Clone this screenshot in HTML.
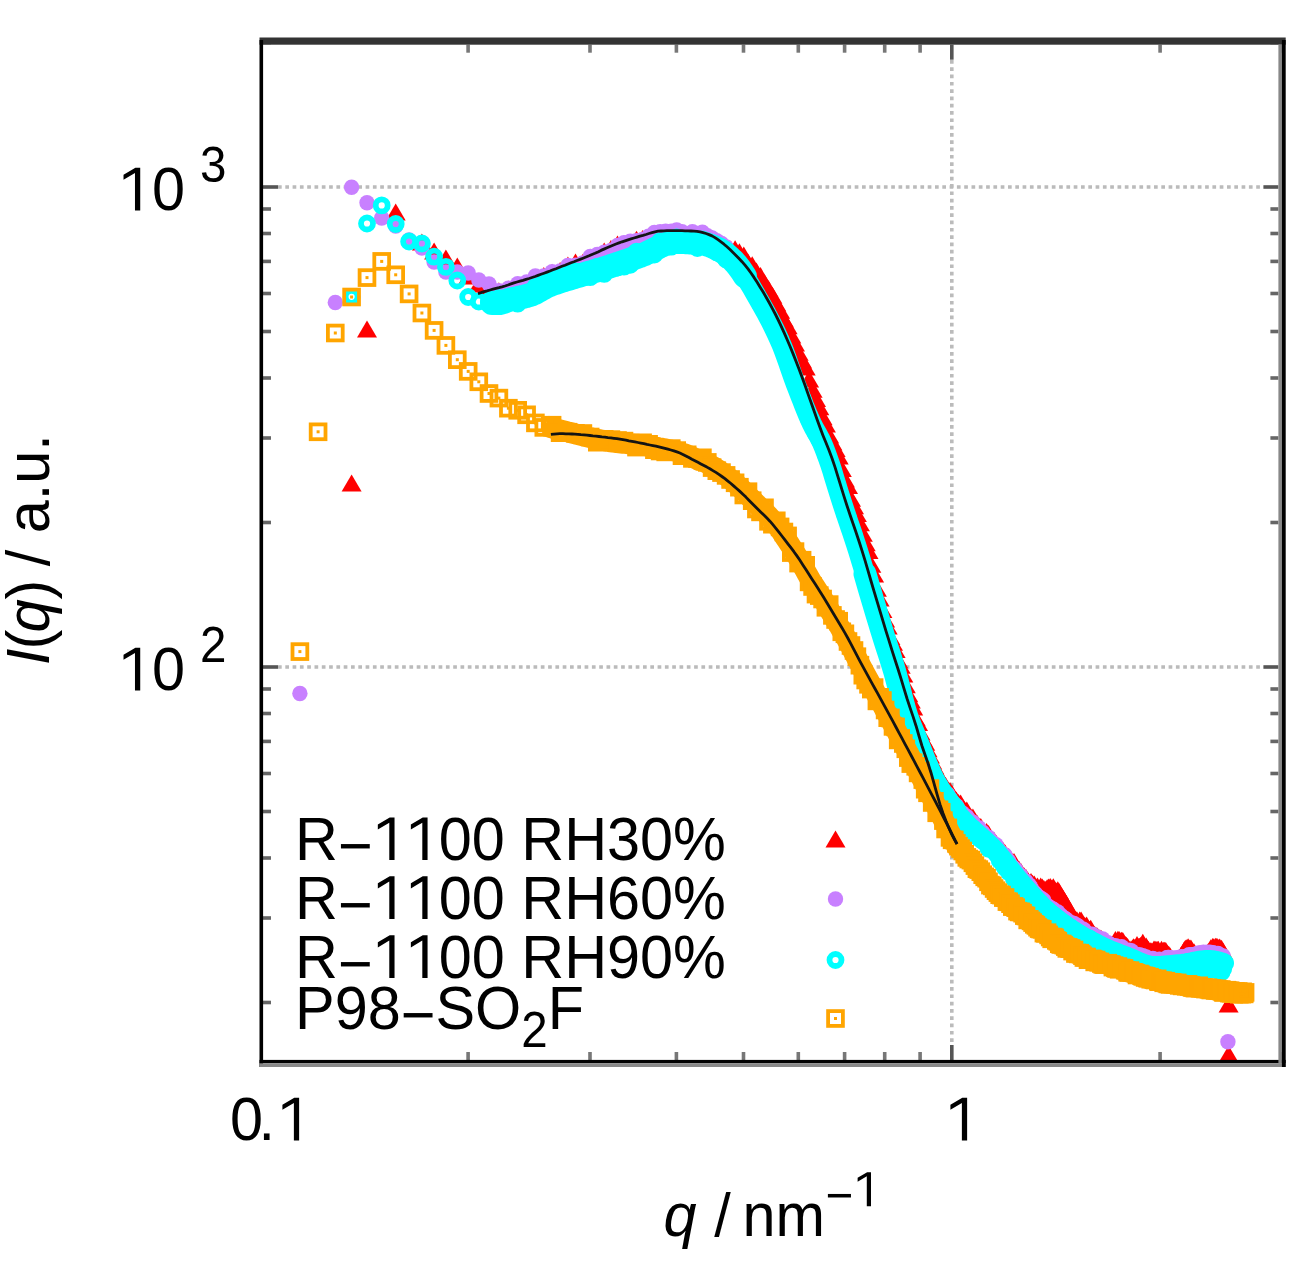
<!DOCTYPE html>
<html><head><meta charset="utf-8"><style>html,body{margin:0;padding:0;background:#fff;width:1307px;height:1263px;overflow:hidden}svg{display:block}</style></head>
<body><svg width="1307" height="1263" viewBox="0 0 1307 1263">
<defs>
<g id="tri"><path d="M0,-9.5 L10,7.5 L-10,7.5 Z" fill="#ff0000"/></g>
<g id="dot"><circle r="7.7" fill="#c880ff"/></g>
<g id="circ"><circle r="6" fill="none" stroke="#00ffff" stroke-width="5.8"/></g>
<g id="sq"><rect x="-7.4" y="-7.4" width="14.8" height="14.8" fill="none" stroke="#ffa500" stroke-width="3.8"/><rect x="-1.5" y="-1.5" width="3" height="3" fill="#ffa500"/></g>
<clipPath id="clip"><rect x="263" y="44.7" width="1015.4" height="1015.3"/></clipPath>
</defs>
<rect width="1307" height="1263" fill="#fff"/>
<line x1="278" y1="187" x2="1262" y2="187" stroke="#bbb" stroke-width="3.6" stroke-dasharray="3.7 3.6"/><line x1="278" y1="667" x2="1262" y2="667" stroke="#bbb" stroke-width="3.6" stroke-dasharray="3.7 3.6"/><line x1="951.8" y1="60" x2="951.8" y2="1045" stroke="#bbb" stroke-width="3.6" stroke-dasharray="3.7 3.6"/>
<g clip-path="url(#clip)">
<use href="#tri" x="351.6" y="484"/><use href="#tri" x="367" y="330"/><use href="#tri" x="395.7" y="213"/><use href="#tri" x="421.9" y="243"/><use href="#tri" x="434.1" y="252"/><use href="#tri" x="445.9" y="259"/><use href="#tri" x="457.3" y="267"/><use href="#tri" x="468.2" y="277"/><use href="#tri" x="478.8" y="285"/><use href="#tri" x="489" y="288"/><use href="#tri" x="498.9" y="291.7"/><use href="#tri" x="508.4" y="290"/><use href="#tri" x="517.7" y="286.3"/><use href="#tri" x="526.6" y="284.6"/><use href="#tri" x="535.4" y="281.8"/><use href="#tri" x="543.8" y="276.6"/><use href="#tri" x="552.1" y="273.3"/><use href="#tri" x="560.1" y="271.4"/><use href="#tri" x="567.9" y="266.1"/><use href="#tri" x="575.5" y="263"/><use href="#tri" x="582.9" y="263.2"/><use href="#tri" x="590.2" y="258.2"/><use href="#tri" x="597.3" y="256.6"/><use href="#tri" x="604.2" y="251.9"/><use href="#tri" x="610.9" y="249.6"/><use href="#tri" x="617.5" y="245"/><use href="#tri" x="624" y="244.7"/><use href="#tri" x="630.3" y="243.5"/><use href="#tri" x="636.5" y="240.3"/><use href="#tri" x="642.6" y="239.5"/><use href="#tri" x="648.6" y="237.4"/><use href="#tri" x="654.4" y="235.2"/><use href="#tri" x="660.1" y="237"/><use href="#tri" x="665.7" y="236.1"/><use href="#tri" x="671.3" y="234.8"/><use href="#tri" x="676.7" y="233.7"/><use href="#tri" x="682" y="237.1"/><use href="#tri" x="687.2" y="235.7"/><use href="#tri" x="692.4" y="237"/><use href="#tri" x="697.4" y="238"/><use href="#tri" x="702.4" y="238.3"/><use href="#tri" x="707.3" y="240.7"/><use href="#tri" x="712.1" y="240.5"/><use href="#tri" x="716.8" y="245.1"/><use href="#tri" x="721.5" y="247.1"/><use href="#tri" x="726.1" y="252.7"/><use href="#tri" x="730.6" y="250"/><use href="#tri" x="735.1" y="249.7"/><use href="#tri" x="739.4" y="252.7"/><use href="#tri" x="743.8" y="256"/><use href="#tri" x="748" y="263.1"/><use href="#tri" x="752.2" y="265.8"/><use href="#tri" x="756.4" y="272"/><use href="#tri" x="760.5" y="276.6"/><use href="#tri" x="764.5" y="283.7"/><use href="#tri" x="768.5" y="289.7"/><use href="#tri" x="772.4" y="296.2"/><use href="#tri" x="776.3" y="304.1"/><use href="#tri" x="780.1" y="311.2"/><use href="#tri" x="783.9" y="319.9"/><use href="#tri" x="787.6" y="326.8"/><use href="#tri" x="791.3" y="336"/><use href="#tri" x="795" y="344"/><use href="#tri" x="798.6" y="353.2"/><use href="#tri" x="802.1" y="360.9"/><use href="#tri" x="805.7" y="368"/><use href="#tri" x="809.1" y="380.1"/><use href="#tri" x="812.6" y="390.2"/><use href="#tri" x="816" y="399.6"/><use href="#tri" x="819.3" y="407.7"/><use href="#tri" x="822.6" y="417.7"/><use href="#tri" x="825.9" y="424.9"/><use href="#tri" x="829.2" y="435.9"/><use href="#tri" x="832.4" y="442.9"/><use href="#tri" x="835.6" y="449.6"/><use href="#tri" x="838.7" y="457.1"/><use href="#tri" x="841.8" y="469.6"/><use href="#tri" x="844.9" y="480.1"/><use href="#tri" x="848" y="486.6"/><use href="#tri" x="851" y="499.2"/><use href="#tri" x="854" y="506.8"/><use href="#tri" x="856.9" y="514.6"/><use href="#tri" x="859.9" y="523.8"/><use href="#tri" x="862.8" y="534.2"/><use href="#tri" x="865.7" y="543.7"/><use href="#tri" x="868.5" y="551.4"/><use href="#tri" x="871.3" y="565.3"/><use href="#tri" x="874.1" y="575"/><use href="#tri" x="876.9" y="589.2"/><use href="#tri" x="879.6" y="599"/><use href="#tri" x="882.4" y="610.6"/><use href="#tri" x="885.1" y="620"/><use href="#tri" x="887.7" y="627"/><use href="#tri" x="890.4" y="637.5"/><use href="#tri" x="893" y="643.2"/><use href="#tri" x="895.6" y="650.5"/><use href="#tri" x="898.2" y="660.7"/><use href="#tri" x="900.7" y="666.3"/><use href="#tri" x="903.3" y="675"/><use href="#tri" x="905.8" y="685.7"/><use href="#tri" x="908.3" y="694.7"/><use href="#tri" x="910.8" y="700.9"/><use href="#tri" x="913.2" y="708.1"/><use href="#tri" x="915.7" y="718.7"/><use href="#tri" x="918.1" y="723.6"/><use href="#tri" x="920.5" y="732.9"/><use href="#tri" x="922.8" y="739.2"/><use href="#tri" x="925.2" y="743.3"/><use href="#tri" x="927.5" y="749.8"/><use href="#tri" x="929.9" y="755.9"/><use href="#tri" x="932.2" y="762"/><use href="#tri" x="934.4" y="767.1"/><use href="#tri" x="936.7" y="771.9"/><use href="#tri" x="939" y="776.6"/><use href="#tri" x="941.2" y="781.8"/><use href="#tri" x="943.4" y="783.6"/><use href="#tri" x="945.6" y="786.5"/><use href="#tri" x="947.8" y="790.6"/><use href="#tri" x="950" y="791.6"/><use href="#tri" x="952.1" y="794.7"/><use href="#tri" x="954.3" y="800.1"/><use href="#tri" x="956.4" y="800.9"/><use href="#tri" x="958.5" y="803.6"/><use href="#tri" x="960.6" y="803.9"/><use href="#tri" x="962.7" y="808"/><use href="#tri" x="964.7" y="811"/><use href="#tri" x="966.8" y="811.1"/><use href="#tri" x="968.8" y="815.8"/><use href="#tri" x="970.9" y="818.1"/><use href="#tri" x="972.9" y="818"/><use href="#tri" x="974.9" y="822.4"/><use href="#tri" x="976.9" y="823.9"/><use href="#tri" x="978.8" y="826.8"/><use href="#tri" x="980.8" y="827.6"/><use href="#tri" x="982.7" y="831.1"/><use href="#tri" x="984.7" y="833.2"/><use href="#tri" x="986.6" y="832.4"/><use href="#tri" x="988.5" y="834.6"/><use href="#tri" x="990.4" y="839.1"/><use href="#tri" x="992.3" y="842.3"/><use href="#tri" x="994.1" y="841.5"/><use href="#tri" x="996" y="844.3"/><use href="#tri" x="997.9" y="846.9"/><use href="#tri" x="999.7" y="847.8"/><use href="#tri" x="1001.5" y="849.9"/><use href="#tri" x="1003.3" y="851.7"/><use href="#tri" x="1005.1" y="853.9"/><use href="#tri" x="1006.9" y="856.8"/><use href="#tri" x="1008.7" y="857.5"/><use href="#tri" x="1010.5" y="859.8"/><use href="#tri" x="1012.3" y="863.4"/><use href="#tri" x="1014" y="862.5"/><use href="#tri" x="1015.7" y="866.9"/><use href="#tri" x="1017.5" y="869.9"/><use href="#tri" x="1019.2" y="870.6"/><use href="#tri" x="1020.9" y="872.5"/><use href="#tri" x="1022.6" y="877.1"/><use href="#tri" x="1024.3" y="876.9"/><use href="#tri" x="1026" y="878.6"/><use href="#tri" x="1027.7" y="881.3"/><use href="#tri" x="1029.3" y="883.7"/><use href="#tri" x="1031" y="882.4"/><use href="#tri" x="1032.6" y="884.2"/><use href="#tri" x="1034.3" y="885.1"/><use href="#tri" x="1035.9" y="887.8"/><use href="#tri" x="1037.5" y="887"/><use href="#tri" x="1039.1" y="889.3"/><use href="#tri" x="1040.7" y="887.1"/><use href="#tri" x="1042.3" y="888.1"/><use href="#tri" x="1043.9" y="889.6"/><use href="#tri" x="1045.5" y="890.5"/><use href="#tri" x="1047.1" y="888.8"/><use href="#tri" x="1048.6" y="887.9"/><use href="#tri" x="1050.2" y="887.5"/><use href="#tri" x="1051.7" y="889.1"/><use href="#tri" x="1053.3" y="887.8"/><use href="#tri" x="1054.8" y="890.7"/><use href="#tri" x="1056.3" y="891.9"/><use href="#tri" x="1057.8" y="890.7"/><use href="#tri" x="1059.3" y="892.8"/><use href="#tri" x="1060.8" y="896.8"/><use href="#tri" x="1062.3" y="898"/><use href="#tri" x="1063.8" y="901.3"/><use href="#tri" x="1065.3" y="902.9"/><use href="#tri" x="1066.8" y="905.8"/><use href="#tri" x="1068.2" y="910.3"/><use href="#tri" x="1069.7" y="915.6"/><use href="#tri" x="1071.1" y="916.1"/><use href="#tri" x="1072.6" y="917.9"/><use href="#tri" x="1074" y="919.2"/><use href="#tri" x="1075.4" y="920.1"/><use href="#tri" x="1076.9" y="920.7"/><use href="#tri" x="1078.3" y="923.4"/><use href="#tri" x="1079.7" y="920.9"/><use href="#tri" x="1081.1" y="920.9"/><use href="#tri" x="1082.5" y="925.3"/><use href="#tri" x="1083.9" y="925.8"/><use href="#tri" x="1085.2" y="927.1"/><use href="#tri" x="1086.6" y="926"/><use href="#tri" x="1088" y="929.3"/><use href="#tri" x="1089.4" y="930.6"/><use href="#tri" x="1090.7" y="929.3"/><use href="#tri" x="1092.1" y="932.9"/><use href="#tri" x="1093.4" y="934.8"/><use href="#tri" x="1094.7" y="935.6"/><use href="#tri" x="1096.1" y="936.5"/><use href="#tri" x="1097.4" y="936.9"/><use href="#tri" x="1098.7" y="938.3"/><use href="#tri" x="1100" y="938.9"/><use href="#tri" x="1101.3" y="939.4"/><use href="#tri" x="1102.7" y="942.5"/><use href="#tri" x="1104" y="942.4"/><use href="#tri" x="1105.2" y="945.3"/><use href="#tri" x="1106.5" y="942.9"/><use href="#tri" x="1107.8" y="946.6"/><use href="#tri" x="1109.1" y="945.7"/><use href="#tri" x="1110.4" y="946.3"/><use href="#tri" x="1111.6" y="945.8"/><use href="#tri" x="1112.9" y="945.3"/><use href="#tri" x="1114.1" y="943.5"/><use href="#tri" x="1115.4" y="940.6"/><use href="#tri" x="1116.6" y="943"/><use href="#tri" x="1117.9" y="940.3"/><use href="#tri" x="1119.1" y="940.4"/><use href="#tri" x="1120.3" y="941.7"/><use href="#tri" x="1121.6" y="941.2"/><use href="#tri" x="1122.8" y="941.6"/><use href="#tri" x="1124" y="945.1"/><use href="#tri" x="1125.2" y="945.5"/><use href="#tri" x="1126.4" y="946.2"/><use href="#tri" x="1127.6" y="947.4"/><use href="#tri" x="1128.8" y="951"/><use href="#tri" x="1130" y="949.9"/><use href="#tri" x="1131.2" y="951"/><use href="#tri" x="1132.4" y="948.9"/><use href="#tri" x="1133.5" y="947.7"/><use href="#tri" x="1134.7" y="948.4"/><use href="#tri" x="1135.9" y="948.8"/><use href="#tri" x="1137" y="945.5"/><use href="#tri" x="1138.2" y="947.4"/><use href="#tri" x="1139.4" y="947.3"/><use href="#tri" x="1140.5" y="946.4"/><use href="#tri" x="1141.6" y="946.3"/><use href="#tri" x="1142.8" y="943.2"/><use href="#tri" x="1143.9" y="946.5"/><use href="#tri" x="1145.1" y="948.7"/><use href="#tri" x="1146.2" y="946.9"/><use href="#tri" x="1147.3" y="949.2"/><use href="#tri" x="1148.4" y="950.4"/><use href="#tri" x="1149.5" y="952"/><use href="#tri" x="1150.7" y="951.7"/><use href="#tri" x="1151.8" y="951.9"/><use href="#tri" x="1152.9" y="953.1"/><use href="#tri" x="1154" y="950"/><use href="#tri" x="1155.1" y="950.2"/><use href="#tri" x="1156.1" y="950.5"/><use href="#tri" x="1157.2" y="950.5"/><use href="#tri" x="1158.3" y="950.3"/><use href="#tri" x="1159.4" y="953.9"/><use href="#tri" x="1160.5" y="953.4"/><use href="#tri" x="1161.5" y="950.3"/><use href="#tri" x="1162.6" y="952"/><use href="#tri" x="1163.7" y="951.3"/><use href="#tri" x="1164.7" y="951.3"/><use href="#tri" x="1165.8" y="951.6"/><use href="#tri" x="1166.8" y="953.7"/><use href="#tri" x="1167.9" y="954.8"/><use href="#tri" x="1168.9" y="955.6"/><use href="#tri" x="1170" y="956.7"/><use href="#tri" x="1171" y="959.1"/><use href="#tri" x="1172.1" y="960"/><use href="#tri" x="1173.1" y="963.1"/><use href="#tri" x="1174.1" y="964.6"/><use href="#tri" x="1175.1" y="963.5"/><use href="#tri" x="1176.2" y="962"/><use href="#tri" x="1177.2" y="961.5"/><use href="#tri" x="1178.2" y="961.1"/><use href="#tri" x="1179.2" y="960.5"/><use href="#tri" x="1180.2" y="959.5"/><use href="#tri" x="1181.2" y="956.1"/><use href="#tri" x="1182.2" y="955.9"/><use href="#tri" x="1183.2" y="953.4"/><use href="#tri" x="1184.2" y="951"/><use href="#tri" x="1185.2" y="949.4"/><use href="#tri" x="1186.2" y="948.8"/><use href="#tri" x="1187.2" y="949"/><use href="#tri" x="1188.1" y="947.7"/><use href="#tri" x="1189.1" y="949.1"/><use href="#tri" x="1190.1" y="949"/><use href="#tri" x="1191.1" y="949.2"/><use href="#tri" x="1192" y="951.7"/><use href="#tri" x="1193" y="953.8"/><use href="#tri" x="1194" y="952.7"/><use href="#tri" x="1194.9" y="955.4"/><use href="#tri" x="1195.9" y="956.5"/><use href="#tri" x="1196.8" y="959.1"/><use href="#tri" x="1197.8" y="959.7"/><use href="#tri" x="1198.7" y="957.4"/><use href="#tri" x="1199.7" y="959.3"/><use href="#tri" x="1200.6" y="958.6"/><use href="#tri" x="1201.5" y="956"/><use href="#tri" x="1202.5" y="956.3"/><use href="#tri" x="1203.4" y="954.3"/><use href="#tri" x="1204.3" y="956.4"/><use href="#tri" x="1205.3" y="955.1"/><use href="#tri" x="1206.2" y="955.3"/><use href="#tri" x="1207.1" y="954.2"/><use href="#tri" x="1208" y="953"/><use href="#tri" x="1208.9" y="952.5"/><use href="#tri" x="1209.9" y="951.2"/><use href="#tri" x="1210.8" y="948.8"/><use href="#tri" x="1211.7" y="950.3"/><use href="#tri" x="1212.6" y="947.5"/><use href="#tri" x="1213.5" y="947.8"/><use href="#tri" x="1214.4" y="950.1"/><use href="#tri" x="1215.3" y="947.2"/><use href="#tri" x="1216.2" y="947.4"/><use href="#tri" x="1217.1" y="947.6"/><use href="#tri" x="1217.9" y="950.9"/><use href="#tri" x="1218.8" y="948.4"/><use href="#tri" x="1219.7" y="948"/><use href="#tri" x="1220.6" y="951.7"/><use href="#tri" x="1221.5" y="949.2"/><use href="#tri" x="1222.3" y="952.6"/><use href="#tri" x="1223.2" y="952.5"/><use href="#tri" x="1228.6" y="1005"/><use href="#tri" x="1228.6" y="1055"/>
<use href="#dot" x="299.9" y="693.5"/><use href="#dot" x="335.3" y="302.5"/><use href="#dot" x="351.6" y="187.3"/><use href="#dot" x="367" y="202.8"/><use href="#dot" x="381.7" y="218"/><use href="#dot" x="395.7" y="226"/><use href="#dot" x="409.1" y="240"/><use href="#dot" x="421.9" y="248"/><use href="#dot" x="434.1" y="262"/><use href="#dot" x="445.9" y="272"/><use href="#dot" x="457.3" y="272"/><use href="#dot" x="468.2" y="273"/><use href="#dot" x="478.8" y="280"/><use href="#dot" x="489" y="284"/><use href="#dot" x="498.9" y="290.6"/><use href="#dot" x="508.4" y="288.2"/><use href="#dot" x="517.7" y="283.6"/><use href="#dot" x="526.6" y="281.9"/><use href="#dot" x="535.4" y="276"/><use href="#dot" x="543.8" y="275.9"/><use href="#dot" x="552.1" y="271.7"/><use href="#dot" x="560.1" y="271"/><use href="#dot" x="567.9" y="265.5"/><use href="#dot" x="575.5" y="265.1"/><use href="#dot" x="582.9" y="263"/><use href="#dot" x="590.2" y="256.5"/><use href="#dot" x="597.3" y="254.5"/><use href="#dot" x="604.2" y="252.3"/><use href="#dot" x="610.9" y="250.4"/><use href="#dot" x="617.5" y="245.4"/><use href="#dot" x="624" y="242.8"/><use href="#dot" x="630.3" y="241.1"/><use href="#dot" x="636.5" y="240.7"/><use href="#dot" x="642.6" y="239.5"/><use href="#dot" x="648.6" y="236.3"/><use href="#dot" x="654.4" y="232.4"/><use href="#dot" x="660.1" y="231.6"/><use href="#dot" x="665.7" y="231.2"/><use href="#dot" x="671.3" y="231.3"/><use href="#dot" x="676.7" y="229.9"/><use href="#dot" x="682" y="231.7"/><use href="#dot" x="687.2" y="233.7"/><use href="#dot" x="692.4" y="231.8"/><use href="#dot" x="697.4" y="233.5"/><use href="#dot" x="702.4" y="232.1"/><use href="#dot" x="707.3" y="235.8"/><use href="#dot" x="712.1" y="238"/><use href="#dot" x="716.8" y="240.6"/><use href="#dot" x="721.5" y="243.4"/><use href="#dot" x="726.1" y="246.9"/><use href="#dot" x="730.6" y="258.8"/><use href="#dot" x="735.1" y="264.3"/><use href="#dot" x="739.4" y="266.8"/><use href="#dot" x="743.8" y="272.8"/><use href="#dot" x="748" y="282.2"/><use href="#dot" x="752.2" y="290.1"/><use href="#dot" x="756.4" y="295.7"/><use href="#dot" x="760.5" y="302.6"/><use href="#dot" x="764.5" y="310.9"/><use href="#dot" x="768.5" y="316.1"/><use href="#dot" x="772.4" y="324.1"/><use href="#dot" x="776.3" y="331.8"/><use href="#dot" x="780.1" y="341.8"/><use href="#dot" x="783.9" y="350"/><use href="#dot" x="787.6" y="360.1"/><use href="#dot" x="791.3" y="372.6"/><use href="#dot" x="795" y="383.8"/><use href="#dot" x="798.6" y="390.6"/><use href="#dot" x="802.1" y="401.4"/><use href="#dot" x="805.7" y="409.1"/><use href="#dot" x="809.1" y="419.1"/><use href="#dot" x="812.6" y="425.5"/><use href="#dot" x="816" y="430.5"/><use href="#dot" x="819.3" y="436.3"/><use href="#dot" x="822.6" y="442.4"/><use href="#dot" x="825.9" y="452.5"/><use href="#dot" x="829.2" y="461.2"/><use href="#dot" x="832.4" y="470.2"/><use href="#dot" x="835.6" y="481.5"/><use href="#dot" x="838.7" y="491.5"/><use href="#dot" x="841.8" y="503"/><use href="#dot" x="844.9" y="510"/><use href="#dot" x="848" y="522.5"/><use href="#dot" x="851" y="529.2"/><use href="#dot" x="854" y="538.6"/><use href="#dot" x="856.9" y="547.3"/><use href="#dot" x="859.9" y="558.2"/><use href="#dot" x="862.8" y="567.7"/><use href="#dot" x="865.7" y="576.4"/><use href="#dot" x="868.5" y="585.9"/><use href="#dot" x="871.3" y="596.5"/><use href="#dot" x="874.1" y="606.4"/><use href="#dot" x="876.9" y="613.8"/><use href="#dot" x="879.6" y="624.2"/><use href="#dot" x="882.4" y="634"/><use href="#dot" x="885.1" y="640.8"/><use href="#dot" x="887.7" y="648.3"/><use href="#dot" x="890.4" y="656.4"/><use href="#dot" x="893" y="666.6"/><use href="#dot" x="895.6" y="675.4"/><use href="#dot" x="898.2" y="686.4"/><use href="#dot" x="900.7" y="696.1"/><use href="#dot" x="903.3" y="703.5"/><use href="#dot" x="905.8" y="712"/><use href="#dot" x="908.3" y="719.5"/><use href="#dot" x="910.8" y="725.5"/><use href="#dot" x="913.2" y="733.4"/><use href="#dot" x="915.7" y="739.7"/><use href="#dot" x="918.1" y="746"/><use href="#dot" x="920.5" y="749.5"/><use href="#dot" x="922.8" y="757.7"/><use href="#dot" x="925.2" y="761.1"/><use href="#dot" x="927.5" y="767.1"/><use href="#dot" x="929.9" y="773.5"/><use href="#dot" x="932.2" y="775.8"/><use href="#dot" x="934.4" y="780.2"/><use href="#dot" x="936.7" y="787.1"/><use href="#dot" x="939" y="788.6"/><use href="#dot" x="941.2" y="786.3"/><use href="#dot" x="943.4" y="790.4"/><use href="#dot" x="945.6" y="793.9"/><use href="#dot" x="947.8" y="794.2"/><use href="#dot" x="950" y="798.3"/><use href="#dot" x="952.1" y="801.4"/><use href="#dot" x="954.3" y="804.2"/><use href="#dot" x="956.4" y="805.6"/><use href="#dot" x="958.5" y="809.5"/><use href="#dot" x="960.6" y="813.3"/><use href="#dot" x="962.7" y="813.3"/><use href="#dot" x="964.7" y="816.1"/><use href="#dot" x="966.8" y="816.5"/><use href="#dot" x="968.8" y="819.1"/><use href="#dot" x="970.9" y="822.7"/><use href="#dot" x="972.9" y="822.3"/><use href="#dot" x="974.9" y="827.2"/><use href="#dot" x="976.9" y="829.1"/><use href="#dot" x="978.8" y="827.6"/><use href="#dot" x="980.8" y="832.7"/><use href="#dot" x="982.7" y="832.1"/><use href="#dot" x="984.7" y="835.4"/><use href="#dot" x="986.6" y="837.1"/><use href="#dot" x="988.5" y="837.1"/><use href="#dot" x="990.4" y="840.4"/><use href="#dot" x="992.3" y="842.2"/><use href="#dot" x="994.1" y="844.8"/><use href="#dot" x="996" y="844.7"/><use href="#dot" x="997.9" y="848.8"/><use href="#dot" x="999.7" y="851.8"/><use href="#dot" x="1001.5" y="852.9"/><use href="#dot" x="1003.3" y="854.7"/><use href="#dot" x="1005.1" y="855.3"/><use href="#dot" x="1006.9" y="859.2"/><use href="#dot" x="1008.7" y="860.9"/><use href="#dot" x="1010.5" y="864.7"/><use href="#dot" x="1012.3" y="866.8"/><use href="#dot" x="1014" y="868.6"/><use href="#dot" x="1015.7" y="869.2"/><use href="#dot" x="1017.5" y="873.2"/><use href="#dot" x="1019.2" y="875.2"/><use href="#dot" x="1020.9" y="875.4"/><use href="#dot" x="1022.6" y="880.2"/><use href="#dot" x="1024.3" y="881.3"/><use href="#dot" x="1026" y="881.1"/><use href="#dot" x="1027.7" y="886.3"/><use href="#dot" x="1029.3" y="885"/><use href="#dot" x="1031" y="887.7"/><use href="#dot" x="1032.6" y="891.1"/><use href="#dot" x="1034.3" y="892.4"/><use href="#dot" x="1035.9" y="894.1"/><use href="#dot" x="1037.5" y="896.2"/><use href="#dot" x="1039.1" y="897.1"/><use href="#dot" x="1040.7" y="898.2"/><use href="#dot" x="1042.3" y="899.2"/><use href="#dot" x="1043.9" y="900.4"/><use href="#dot" x="1045.5" y="904.4"/><use href="#dot" x="1047.1" y="906"/><use href="#dot" x="1048.6" y="906.5"/><use href="#dot" x="1050.2" y="908.6"/><use href="#dot" x="1051.7" y="908.4"/><use href="#dot" x="1053.3" y="909.3"/><use href="#dot" x="1054.8" y="911"/><use href="#dot" x="1056.3" y="914.1"/><use href="#dot" x="1057.8" y="912"/><use href="#dot" x="1059.3" y="915"/><use href="#dot" x="1060.8" y="915.1"/><use href="#dot" x="1062.3" y="918.2"/><use href="#dot" x="1063.8" y="917.6"/><use href="#dot" x="1065.3" y="918.6"/><use href="#dot" x="1066.8" y="919.9"/><use href="#dot" x="1068.2" y="921.4"/><use href="#dot" x="1069.7" y="923.3"/><use href="#dot" x="1071.1" y="922.6"/><use href="#dot" x="1072.6" y="925.5"/><use href="#dot" x="1074" y="923.5"/><use href="#dot" x="1075.4" y="925.1"/><use href="#dot" x="1076.9" y="925.3"/><use href="#dot" x="1078.3" y="926.2"/><use href="#dot" x="1079.7" y="929.7"/><use href="#dot" x="1081.1" y="930.4"/><use href="#dot" x="1082.5" y="929"/><use href="#dot" x="1083.9" y="929.8"/><use href="#dot" x="1085.2" y="931.6"/><use href="#dot" x="1086.6" y="933.6"/><use href="#dot" x="1088" y="934.7"/><use href="#dot" x="1089.4" y="935.2"/><use href="#dot" x="1090.7" y="935.3"/><use href="#dot" x="1092.1" y="934.2"/><use href="#dot" x="1093.4" y="936"/><use href="#dot" x="1094.7" y="935.8"/><use href="#dot" x="1096.1" y="937.8"/><use href="#dot" x="1097.4" y="938.7"/><use href="#dot" x="1098.7" y="937.9"/><use href="#dot" x="1100" y="938.7"/><use href="#dot" x="1101.3" y="941.4"/><use href="#dot" x="1102.7" y="939"/><use href="#dot" x="1104" y="942.7"/><use href="#dot" x="1105.2" y="943.7"/><use href="#dot" x="1106.5" y="944.5"/><use href="#dot" x="1107.8" y="942.8"/><use href="#dot" x="1109.1" y="944"/><use href="#dot" x="1110.4" y="944.6"/><use href="#dot" x="1111.6" y="945.4"/><use href="#dot" x="1112.9" y="947.3"/><use href="#dot" x="1114.1" y="946.6"/><use href="#dot" x="1115.4" y="945.6"/><use href="#dot" x="1116.6" y="948.3"/><use href="#dot" x="1117.9" y="947.3"/><use href="#dot" x="1119.1" y="948.2"/><use href="#dot" x="1120.3" y="949.2"/><use href="#dot" x="1121.6" y="946.8"/><use href="#dot" x="1122.8" y="950.3"/><use href="#dot" x="1124" y="950.3"/><use href="#dot" x="1125.2" y="950.1"/><use href="#dot" x="1126.4" y="950.7"/><use href="#dot" x="1127.6" y="950.9"/><use href="#dot" x="1128.8" y="950.3"/><use href="#dot" x="1130" y="952.1"/><use href="#dot" x="1131.2" y="950.6"/><use href="#dot" x="1132.4" y="953"/><use href="#dot" x="1133.5" y="954.1"/><use href="#dot" x="1134.7" y="953.8"/><use href="#dot" x="1135.9" y="954.8"/><use href="#dot" x="1137" y="956.9"/><use href="#dot" x="1138.2" y="957.2"/><use href="#dot" x="1139.4" y="954.6"/><use href="#dot" x="1140.5" y="957.7"/><use href="#dot" x="1141.6" y="957.5"/><use href="#dot" x="1142.8" y="955.7"/><use href="#dot" x="1143.9" y="957.3"/><use href="#dot" x="1145.1" y="957.2"/><use href="#dot" x="1146.2" y="957"/><use href="#dot" x="1147.3" y="959.1"/><use href="#dot" x="1148.4" y="961"/><use href="#dot" x="1149.5" y="958.8"/><use href="#dot" x="1150.7" y="961.2"/><use href="#dot" x="1151.8" y="960.6"/><use href="#dot" x="1152.9" y="958.5"/><use href="#dot" x="1154" y="961.4"/><use href="#dot" x="1155.1" y="960.4"/><use href="#dot" x="1156.1" y="961.7"/><use href="#dot" x="1157.2" y="960.8"/><use href="#dot" x="1158.3" y="960.9"/><use href="#dot" x="1159.4" y="959.3"/><use href="#dot" x="1160.5" y="961.1"/><use href="#dot" x="1161.5" y="961.5"/><use href="#dot" x="1162.6" y="961.2"/><use href="#dot" x="1163.7" y="959.4"/><use href="#dot" x="1164.7" y="960.6"/><use href="#dot" x="1165.8" y="959.4"/><use href="#dot" x="1166.8" y="957.8"/><use href="#dot" x="1167.9" y="957.5"/><use href="#dot" x="1168.9" y="957.5"/><use href="#dot" x="1170" y="957.9"/><use href="#dot" x="1171" y="957.7"/><use href="#dot" x="1172.1" y="958.9"/><use href="#dot" x="1173.1" y="959.6"/><use href="#dot" x="1174.1" y="958.9"/><use href="#dot" x="1175.1" y="958.3"/><use href="#dot" x="1176.2" y="959.1"/><use href="#dot" x="1177.2" y="957.6"/><use href="#dot" x="1178.2" y="958.1"/><use href="#dot" x="1179.2" y="959.2"/><use href="#dot" x="1180.2" y="957.7"/><use href="#dot" x="1181.2" y="956.7"/><use href="#dot" x="1182.2" y="959.5"/><use href="#dot" x="1183.2" y="958.6"/><use href="#dot" x="1184.2" y="957.1"/><use href="#dot" x="1185.2" y="956.9"/><use href="#dot" x="1186.2" y="957.4"/><use href="#dot" x="1187.2" y="957.5"/><use href="#dot" x="1188.1" y="955.8"/><use href="#dot" x="1189.1" y="954.7"/><use href="#dot" x="1190.1" y="955.4"/><use href="#dot" x="1191.1" y="957.5"/><use href="#dot" x="1192" y="954.7"/><use href="#dot" x="1193" y="955.8"/><use href="#dot" x="1194" y="954.5"/><use href="#dot" x="1194.9" y="954.4"/><use href="#dot" x="1195.9" y="954.1"/><use href="#dot" x="1196.8" y="954.8"/><use href="#dot" x="1197.8" y="953.7"/><use href="#dot" x="1198.7" y="953"/><use href="#dot" x="1199.7" y="953.2"/><use href="#dot" x="1200.6" y="953.2"/><use href="#dot" x="1201.5" y="954.4"/><use href="#dot" x="1202.5" y="952.6"/><use href="#dot" x="1203.4" y="952.3"/><use href="#dot" x="1204.3" y="953.9"/><use href="#dot" x="1205.3" y="953.7"/><use href="#dot" x="1206.2" y="954.8"/><use href="#dot" x="1207.1" y="952.2"/><use href="#dot" x="1208" y="953.6"/><use href="#dot" x="1208.9" y="953.6"/><use href="#dot" x="1209.9" y="952.2"/><use href="#dot" x="1210.8" y="956"/><use href="#dot" x="1211.7" y="953.1"/><use href="#dot" x="1212.6" y="952.7"/><use href="#dot" x="1213.5" y="954.3"/><use href="#dot" x="1214.4" y="953.2"/><use href="#dot" x="1215.3" y="955.2"/><use href="#dot" x="1216.2" y="954.3"/><use href="#dot" x="1217.1" y="953.6"/><use href="#dot" x="1217.9" y="953.5"/><use href="#dot" x="1218.8" y="956.4"/><use href="#dot" x="1219.7" y="954.9"/><use href="#dot" x="1220.6" y="957.2"/><use href="#dot" x="1221.5" y="956.1"/><use href="#dot" x="1222.3" y="958.3"/><use href="#dot" x="1223.2" y="956"/><use href="#dot" x="1227.9" y="1041.7"/>
<polyline points="492,303 494,303 496,303 498,303 500,302.9 502,302.5 504,301.8 506,301 508,300.3 510,299.7 512,299.2 514,298.8 516,298.4 518,298 520,297.5 522,297.1 524,296.7 526,296.2 528,295.6 530,295 532,294.3 534,293.4 536,292.4 538,291.3 540,290.2 542,289 544,287.9 546,286.8 548,285.9 550,285 552,284.2 554,283.5 556,282.8 558,282.1 560,281.4 562,280.8 564,280.2 566,279.6 568,279 570,278.4 572,277.8 574,277.2 576,276.6 578,276 580,275.4 582,274.8 584,274.2 586,273.6 588,273 590,272.5 592,271.9 594,271.3 596,270.7 598,270.1 600,269.5 602,268.9 604,268.3 606,267.7 608,267 610,266.4 612,265.7 614,265.1 616,264.4 618,263.7 620,263.1 622,262.4 624,261.7 626,261 628,260.3 630,259.6 632,258.9 634,258.2 636,257.4 638,256.7 640,256 642,255.2 644,254.4 646,253.4 648,252.5 650,251.5 652,250.4 654,249.4 656,248.4 658,247.4 660,246.4 662,245.5 664,244.7 666,243.9 668,243.3 670,242.7 672,242.3 674,242.1 676,242 678,242 680,242 682,242.1 684,242.1 686,242.2 688,242.3 690,242.4 692,242.5 694,242.6 696,242.7 698,242.9 700,243 702,243.2 704,243.6 706,244.1 708,244.8 710,245.5 712,246.3 714,247.2 716,248.1 718,249 720,250 722,251.3 724,252.7 726,254.2 728,255.9 730,257.7 732,259.6 734,261.6 736,263.8 738,266.3 740,268.9 742,271.8 744,274.8 745,276.3" fill="none" stroke="#00ffff" stroke-width="24" stroke-linejoin="round" stroke-linecap="round"/>
<polyline points="740,268.9 742,271.8 744,274.8 746,277.9 748,281.2 750,284.6 752,288 754,291.5 756,295 758,298.5 760,302 762,305.5 764,309.1 766,312.7 768,316.4 770,320.3 772,324.2 774,328.2 776,332.4 778,336.7 780,341.2 782,345.9 784,351 786,356.5 788,362.1 790,367.9 792,373.7 794,379.3 796,384.7 798,389.9 800,395.1 802,400.2 804,405.3 806,410.3 808,415.1 810,419.6 812,424 814,428 816,431.5 818,435 820,438.7 822,442.8 824,447.6 826,452.8 828,458.3 830,464.1 832,470.2 834,476.8 836,483.4 838,489.9 840,496.2 842,502.5 844,508.6 846,514.7 848,520.6 850,526.4 852,532.3 854,538.3 856,544.5 858,550.8 860,557.2 862,563.8 864,570.5 866,577.4 868,584.3 870,591.1" fill="none" stroke="#00ffff" stroke-width="20" stroke-linejoin="round" stroke-linecap="round"/>
<polyline points="865,573.9 867,580.8 869,587.7 871,594.5 873,601.2 875,607.9 877,614.6 879,621.2 881,627.8 883,634.3 885,640.7 887,647.1 889,653.2 891,659.3 893,665.7 895,672.5 897,679.9 899,687.8 901,695.7 903,703.4 905,710.6 907,716.9 909,722.3 911,727.3 913,732 915,736.7 917,741.7 919,746.7 921,751.8 923,756.6 925,761.4 927,766.1 929,770.7 931,775.1 933,779.1 935,782.8 937,786.2 939,789.5 941,792.6 943,795.5 945,798.3 947,801.1 949,803.7 951,806.3 953,808.8 955,811.2" fill="none" stroke="#00ffff" stroke-width="23" stroke-linejoin="round" stroke-linecap="round"/>
<polyline points="950,805 952,807.5 954,810 956,812.3 958,814.6 960,816.8 962,819 964,821.1 966,823.2 968,825.2 970,827.2 972,829.1 974,830.9 976,832.7 978,834.5 980,836.2 982,838 984,839.7 986,841.6 988,843.4 990,845.3 992,847.3 994,849.4 996,851.6 998,854 1000,856.4 1002,858.8 1004,861.4 1006,864 1008,866.6 1010,869.2 1012,871.8 1014,874.3 1016,876.8 1018,879.3 1020,881.7 1022,884 1024,886.3 1026,888.6 1028,890.9 1030,893.2 1032,895.5 1034,897.7 1036,899.9 1038,902.1 1040,904.2 1042,906.2 1044,908.2 1046,910 1048,911.8 1050,913.5 1052,915.2 1054,916.8 1056,918.4 1058,919.9 1060,921.4 1062,922.9 1064,924.3 1066,925.7 1068,927.1 1070,928.5 1072,929.8 1074,931.1 1076,932.3 1078,933.6 1080,934.8 1082,936 1084,937.2 1086,938.3 1088,939.4 1090,940.5 1092,941.6 1094,942.7 1096,943.7 1098,944.7 1100,945.7 1102,946.6 1104,947.5 1106,948.4 1108,949.3 1110,950.2 1112,951 1114,951.8 1116,952.6 1118,953.4 1120,954.2 1122,954.9 1124,955.7 1126,956.4 1128,957.2 1130,958 1132,958.8 1134,959.7 1136,960.6 1138,961.5 1140,962.4 1142,963.2 1144,963.9 1146,964.6 1148,965.2 1150,965.6 1152,965.9 1154,966 1156,966 1158,965.9 1160,965.9 1162,965.8 1164,965.6 1166,965.5 1168,965.3 1170,965.1 1172,964.9 1174,964.7 1176,964.5 1178,964.3 1180,964.1 1182,963.9 1184,963.6 1186,963.3 1188,962.9 1190,962.6 1192,962.2 1194,961.7 1196,961.4 1198,961 1200,960.7 1202,960.4 1204,960.2 1206,960 1208,960 1210,960.1 1212,960.2 1214,960.5 1216,960.9 1218,961.3 1220,961.9 1222,962.4 1224,963.1" fill="none" stroke="#00ffff" stroke-width="20" stroke-linejoin="round" stroke-linecap="round"/>
<use href="#circ" x="351.6" y="296.8"/><use href="#circ" x="367" y="223.5"/><use href="#circ" x="381.7" y="205.4"/><use href="#circ" x="395.7" y="224"/><use href="#circ" x="409.1" y="241.5"/><use href="#circ" x="421.9" y="243.5"/><use href="#circ" x="434.1" y="256.7"/><use href="#circ" x="445.9" y="266.9"/><use href="#circ" x="457.3" y="280.5"/><use href="#circ" x="468.2" y="297"/><use href="#circ" x="478.8" y="301.5"/><use href="#circ" x="489" y="301.1"/><use href="#circ" x="498.9" y="298.1"/><use href="#circ" x="508.4" y="302.4"/><use href="#circ" x="517.7" y="303.7"/><use href="#circ" x="526.6" y="297.1"/><use href="#circ" x="535.4" y="286.8"/><use href="#circ" x="543.8" y="282.4"/><use href="#circ" x="552.1" y="279.3"/><use href="#circ" x="560.1" y="277.5"/><use href="#circ" x="567.9" y="273.5"/><use href="#circ" x="575.5" y="271.4"/><use href="#circ" x="582.9" y="276.4"/><use href="#circ" x="590.2" y="277.2"/><use href="#circ" x="597.3" y="266.8"/><use href="#circ" x="604.2" y="273.9"/><use href="#circ" x="610.9" y="265.8"/><use href="#circ" x="617.5" y="267.5"/><use href="#circ" x="624" y="266.7"/><use href="#circ" x="630.3" y="264.8"/><use href="#circ" x="636.5" y="251.7"/><use href="#circ" x="642.6" y="252.6"/><use href="#circ" x="648.6" y="253.5"/><use href="#circ" x="654.4" y="254.5"/><use href="#circ" x="660.1" y="241.4"/><use href="#circ" x="665.7" y="241.5"/><use href="#circ" x="671.3" y="246.7"/><use href="#circ" x="676.7" y="237.4"/><use href="#circ" x="682" y="240.7"/><use href="#circ" x="687.2" y="240.2"/><use href="#circ" x="692.4" y="244.6"/><use href="#circ" x="697.4" y="248"/><use href="#circ" x="702.4" y="239.4"/><use href="#circ" x="707.3" y="247.4"/><use href="#circ" x="712.1" y="249.1"/><use href="#circ" x="716.8" y="252.5"/><use href="#circ" x="721.5" y="251.6"/><use href="#circ" x="726.1" y="259.4"/><use href="#circ" x="730.6" y="256.6"/><use href="#circ" x="735.1" y="262.2"/><use href="#circ" x="739.4" y="266.5"/><use href="#circ" x="743.8" y="276.1"/><use href="#circ" x="748" y="281.1"/><use href="#circ" x="752.2" y="287"/><use href="#circ" x="756.4" y="293.7"/><use href="#circ" x="760.5" y="304.2"/><use href="#circ" x="764.5" y="310.6"/><use href="#circ" x="768.5" y="318.6"/><use href="#circ" x="772.4" y="324.3"/><use href="#circ" x="776.3" y="333"/><use href="#circ" x="780.1" y="339.4"/><use href="#circ" x="783.9" y="352"/><use href="#circ" x="787.6" y="358.3"/><use href="#circ" x="791.3" y="371.6"/><use href="#circ" x="795" y="383.6"/><use href="#circ" x="798.6" y="392.5"/><use href="#circ" x="802.1" y="398.2"/><use href="#circ" x="805.7" y="407.8"/><use href="#circ" x="809.1" y="419.7"/><use href="#circ" x="812.6" y="426"/><use href="#circ" x="816" y="433.7"/><use href="#circ" x="819.3" y="439.7"/><use href="#circ" x="822.6" y="444"/><use href="#circ" x="825.9" y="454.9"/><use href="#circ" x="829.2" y="463.1"/><use href="#circ" x="832.4" y="470.5"/><use href="#circ" x="835.6" y="481.2"/><use href="#circ" x="838.7" y="489.7"/><use href="#circ" x="841.8" y="501.3"/><use href="#circ" x="844.9" y="514.1"/><use href="#circ" x="848" y="518.2"/><use href="#circ" x="851" y="529.7"/><use href="#circ" x="854" y="535.9"/><use href="#circ" x="856.9" y="544.9"/><use href="#circ" x="859.9" y="557.7"/><use href="#circ" x="862.8" y="564.8"/><use href="#circ" x="865.7" y="573.5"/><use href="#circ" x="868.5" y="583.9"/><use href="#circ" x="871.3" y="596.5"/><use href="#circ" x="874.1" y="605.5"/><use href="#circ" x="876.9" y="611.3"/><use href="#circ" x="879.6" y="621.7"/><use href="#circ" x="882.4" y="635"/><use href="#circ" x="885.1" y="639.2"/><use href="#circ" x="887.7" y="649.7"/><use href="#circ" x="890.4" y="657"/><use href="#circ" x="893" y="667.4"/><use href="#circ" x="895.6" y="675.3"/><use href="#circ" x="898.2" y="686.3"/><use href="#circ" x="900.7" y="694.9"/><use href="#circ" x="903.3" y="702.6"/><use href="#circ" x="905.8" y="711.3"/><use href="#circ" x="908.3" y="718"/><use href="#circ" x="910.8" y="728.7"/><use href="#circ" x="913.2" y="730.2"/><use href="#circ" x="915.7" y="735.5"/><use href="#circ" x="918.1" y="747.2"/><use href="#circ" x="920.5" y="748.6"/><use href="#circ" x="922.8" y="758.6"/><use href="#circ" x="925.2" y="759.4"/><use href="#circ" x="927.5" y="767.2"/><use href="#circ" x="929.9" y="771"/><use href="#circ" x="932.2" y="779.5"/><use href="#circ" x="934.4" y="782.5"/><use href="#circ" x="936.7" y="786.6"/><use href="#circ" x="939" y="791"/><use href="#circ" x="941.2" y="795.1"/><use href="#circ" x="943.4" y="795.2"/><use href="#circ" x="945.6" y="799.8"/><use href="#circ" x="947.8" y="801.8"/><use href="#circ" x="950" y="802.6"/><use href="#circ" x="952.1" y="809.7"/><use href="#circ" x="954.3" y="810.9"/><use href="#circ" x="956.4" y="814.7"/><use href="#circ" x="958.5" y="813.4"/><use href="#circ" x="960.6" y="819.2"/><use href="#circ" x="962.7" y="820.9"/><use href="#circ" x="964.7" y="825"/><use href="#circ" x="966.8" y="822.5"/><use href="#circ" x="968.8" y="826.5"/><use href="#circ" x="970.9" y="829.4"/><use href="#circ" x="972.9" y="828.4"/><use href="#circ" x="974.9" y="833.6"/><use href="#circ" x="976.9" y="836.6"/><use href="#circ" x="978.8" y="836.1"/><use href="#circ" x="980.8" y="839.4"/><use href="#circ" x="982.7" y="840.9"/><use href="#circ" x="984.7" y="839.8"/><use href="#circ" x="986.6" y="842.5"/><use href="#circ" x="988.5" y="848.8"/><use href="#circ" x="990.4" y="846.1"/><use href="#circ" x="992.3" y="848.6"/><use href="#circ" x="994.1" y="848.2"/><use href="#circ" x="996" y="851.2"/><use href="#circ" x="997.9" y="852.9"/><use href="#circ" x="999.7" y="860.5"/><use href="#circ" x="1001.5" y="861.3"/><use href="#circ" x="1003.3" y="864.7"/><use href="#circ" x="1005.1" y="867.8"/><use href="#circ" x="1006.9" y="867.5"/><use href="#circ" x="1008.7" y="872"/><use href="#circ" x="1010.5" y="871.6"/><use href="#circ" x="1012.3" y="873"/><use href="#circ" x="1014" y="879"/><use href="#circ" x="1015.7" y="880.8"/><use href="#circ" x="1017.5" y="883.3"/><use href="#circ" x="1019.2" y="882.1"/><use href="#circ" x="1020.9" y="886.1"/><use href="#circ" x="1022.6" y="885.5"/><use href="#circ" x="1024.3" y="891.6"/><use href="#circ" x="1026" y="893.1"/><use href="#circ" x="1027.7" y="890.6"/><use href="#circ" x="1029.3" y="897"/><use href="#circ" x="1031" y="893.7"/><use href="#circ" x="1032.6" y="894.9"/><use href="#circ" x="1034.3" y="901.1"/><use href="#circ" x="1035.9" y="899.9"/><use href="#circ" x="1037.5" y="903.2"/><use href="#circ" x="1039.1" y="905.8"/><use href="#circ" x="1040.7" y="903.2"/><use href="#circ" x="1042.3" y="909.8"/><use href="#circ" x="1043.9" y="908"/><use href="#circ" x="1045.5" y="910.6"/><use href="#circ" x="1047.1" y="911.4"/><use href="#circ" x="1048.6" y="915.5"/><use href="#circ" x="1050.2" y="916.9"/><use href="#circ" x="1051.7" y="915"/><use href="#circ" x="1053.3" y="914.9"/><use href="#circ" x="1054.8" y="917.5"/><use href="#circ" x="1056.3" y="919.5"/><use href="#circ" x="1057.8" y="918.4"/><use href="#circ" x="1059.3" y="920"/><use href="#circ" x="1060.8" y="925.4"/><use href="#circ" x="1062.3" y="926.1"/><use href="#circ" x="1063.8" y="929.1"/><use href="#circ" x="1065.3" y="930.1"/><use href="#circ" x="1066.8" y="930.4"/><use href="#circ" x="1068.2" y="927.9"/><use href="#circ" x="1069.7" y="927.4"/><use href="#circ" x="1071.1" y="929.4"/><use href="#circ" x="1072.6" y="931.4"/><use href="#circ" x="1074" y="932.7"/><use href="#circ" x="1075.4" y="933.8"/><use href="#circ" x="1076.9" y="933.4"/><use href="#circ" x="1078.3" y="937.7"/><use href="#circ" x="1079.7" y="934.6"/><use href="#circ" x="1081.1" y="936.7"/><use href="#circ" x="1082.5" y="940.5"/><use href="#circ" x="1083.9" y="940.7"/><use href="#circ" x="1085.2" y="938"/><use href="#circ" x="1086.6" y="938.4"/><use href="#circ" x="1088" y="943.1"/><use href="#circ" x="1089.4" y="938.3"/><use href="#circ" x="1090.7" y="939.9"/><use href="#circ" x="1092.1" y="943.4"/><use href="#circ" x="1093.4" y="944.1"/><use href="#circ" x="1094.7" y="942.2"/><use href="#circ" x="1096.1" y="942.1"/><use href="#circ" x="1097.4" y="943.8"/><use href="#circ" x="1098.7" y="948.4"/><use href="#circ" x="1100" y="949.8"/><use href="#circ" x="1101.3" y="956.1"/><use href="#circ" x="1102.7" y="954.6"/><use href="#circ" x="1104" y="957.3"/><use href="#circ" x="1105.2" y="947.5"/><use href="#circ" x="1106.5" y="949.7"/><use href="#circ" x="1107.8" y="948.4"/><use href="#circ" x="1109.1" y="953.5"/><use href="#circ" x="1110.4" y="953"/><use href="#circ" x="1111.6" y="950.4"/><use href="#circ" x="1112.9" y="956.4"/><use href="#circ" x="1114.1" y="951.9"/><use href="#circ" x="1115.4" y="954.8"/><use href="#circ" x="1116.6" y="954.6"/><use href="#circ" x="1117.9" y="961.2"/><use href="#circ" x="1119.1" y="957.4"/><use href="#circ" x="1120.3" y="956.2"/><use href="#circ" x="1121.6" y="954.3"/><use href="#circ" x="1122.8" y="959"/><use href="#circ" x="1124" y="961.6"/><use href="#circ" x="1125.2" y="962.6"/><use href="#circ" x="1126.4" y="965.6"/><use href="#circ" x="1127.6" y="964.9"/><use href="#circ" x="1128.8" y="959.2"/><use href="#circ" x="1130" y="958.5"/><use href="#circ" x="1131.2" y="965.8"/><use href="#circ" x="1132.4" y="966.7"/><use href="#circ" x="1133.5" y="964.1"/><use href="#circ" x="1134.7" y="968.2"/><use href="#circ" x="1135.9" y="965.6"/><use href="#circ" x="1137" y="963.1"/><use href="#circ" x="1138.2" y="962.4"/><use href="#circ" x="1139.4" y="961.3"/><use href="#circ" x="1140.5" y="968.6"/><use href="#circ" x="1141.6" y="971.9"/><use href="#circ" x="1142.8" y="972.5"/><use href="#circ" x="1143.9" y="968"/><use href="#circ" x="1145.1" y="970.6"/><use href="#circ" x="1146.2" y="973.9"/><use href="#circ" x="1147.3" y="972.9"/><use href="#circ" x="1148.4" y="970.9"/><use href="#circ" x="1149.5" y="969.1"/><use href="#circ" x="1150.7" y="970.4"/><use href="#circ" x="1151.8" y="966.7"/><use href="#circ" x="1152.9" y="967"/><use href="#circ" x="1154" y="972.5"/><use href="#circ" x="1155.1" y="975.9"/><use href="#circ" x="1156.1" y="971"/><use href="#circ" x="1157.2" y="969.5"/><use href="#circ" x="1158.3" y="968.8"/><use href="#circ" x="1159.4" y="969.9"/><use href="#circ" x="1160.5" y="973.7"/><use href="#circ" x="1161.5" y="969.8"/><use href="#circ" x="1162.6" y="975.3"/><use href="#circ" x="1163.7" y="966.4"/><use href="#circ" x="1164.7" y="968"/><use href="#circ" x="1165.8" y="970.2"/><use href="#circ" x="1166.8" y="968.9"/><use href="#circ" x="1167.9" y="973.7"/><use href="#circ" x="1168.9" y="973.3"/><use href="#circ" x="1170" y="974.4"/><use href="#circ" x="1171" y="970.8"/><use href="#circ" x="1172.1" y="964.3"/><use href="#circ" x="1173.1" y="970.1"/><use href="#circ" x="1174.1" y="969.8"/><use href="#circ" x="1175.1" y="969"/><use href="#circ" x="1176.2" y="966.6"/><use href="#circ" x="1177.2" y="971.2"/><use href="#circ" x="1178.2" y="973.3"/><use href="#circ" x="1179.2" y="964.3"/><use href="#circ" x="1180.2" y="970.4"/><use href="#circ" x="1181.2" y="967.1"/><use href="#circ" x="1182.2" y="968.5"/><use href="#circ" x="1183.2" y="972.6"/><use href="#circ" x="1184.2" y="973.2"/><use href="#circ" x="1185.2" y="969.5"/><use href="#circ" x="1186.2" y="964.4"/><use href="#circ" x="1187.2" y="972.2"/><use href="#circ" x="1188.1" y="963.9"/><use href="#circ" x="1189.1" y="965.9"/><use href="#circ" x="1190.1" y="970.6"/><use href="#circ" x="1191.1" y="964.8"/><use href="#circ" x="1192" y="964.1"/><use href="#circ" x="1193" y="971.4"/><use href="#circ" x="1194" y="971.1"/><use href="#circ" x="1194.9" y="964.1"/><use href="#circ" x="1195.9" y="964.7"/><use href="#circ" x="1196.8" y="963.3"/><use href="#circ" x="1197.8" y="961.5"/><use href="#circ" x="1198.7" y="962.6"/><use href="#circ" x="1199.7" y="970.5"/><use href="#circ" x="1200.6" y="960.4"/><use href="#circ" x="1201.5" y="962"/><use href="#circ" x="1202.5" y="961.5"/><use href="#circ" x="1203.4" y="960.1"/><use href="#circ" x="1204.3" y="964.9"/><use href="#circ" x="1205.3" y="967.3"/><use href="#circ" x="1206.2" y="968.3"/><use href="#circ" x="1207.1" y="965.9"/><use href="#circ" x="1208" y="968"/><use href="#circ" x="1208.9" y="959.1"/><use href="#circ" x="1209.9" y="962.2"/><use href="#circ" x="1210.8" y="969.7"/><use href="#circ" x="1211.7" y="960"/><use href="#circ" x="1212.6" y="962.3"/><use href="#circ" x="1213.5" y="964.7"/><use href="#circ" x="1214.4" y="962.5"/><use href="#circ" x="1215.3" y="965.7"/><use href="#circ" x="1216.2" y="960.4"/><use href="#circ" x="1217.1" y="962.7"/><use href="#circ" x="1217.9" y="970.8"/><use href="#circ" x="1218.8" y="962.1"/><use href="#circ" x="1219.7" y="970.7"/><use href="#circ" x="1220.6" y="963"/><use href="#circ" x="1221.5" y="972.2"/><use href="#circ" x="1222.3" y="969"/><use href="#circ" x="1223.2" y="969"/>
<polyline points="545,425.6 547,426.4 549,427 551,427.6 553,428.2 555,428.7 557,429.2 559,429.7 561,430.2 563,430.7 565,431.2 567,431.7 569,432.3 571,432.8 573,433.3 575,433.8 577,434.4 579,434.9 581,435.4 583,435.9 585,436.4 587,436.9 589,437.4 591,437.9 593,438.3 595,438.8 597,439.2 599,439.6 601,440 603,440.4 605,440.8 607,441.1 609,441.5 611,441.8 613,442.1 615,442.3 617,442.6 619,442.8 621,443 623,443.2 625,443.4 627,443.6 629,443.8 631,444 633,444.2 635,444.4 637,444.6 639,444.9 641,445.1 643,445.4 645,445.6 647,445.9 649,446.2 651,446.5 653,446.8 655,447.1 657,447.4 659,447.8 661,448.1 663,448.5 665,448.9 667,449.3 669,449.7 671,450.1 673,450.6 675,451 677,451.5 679,452.1 681,452.7 683,453.3 685,454 687,454.8 689,455.7 691,456.5 693,457.5 695,458.4 697,459.4 699,460.5 701,459.9 703,461 705,462.1 707,463.2 709,464.3 711,465.4 713,466.6 715,467.8 717,469.1 719,470.4 721,471.8 723,473.3 725,474.8 727,476.3 729,478 731,479.6 733,481.3 735,483.1 737,484.8 739,486.6 741,488.4 743,490.3 745,492.2 747,494.2 749,496.3 751,498.3 753,500.4 755,502.4 757,504.4 759,506.3 761,508.2 763,510.2 765,512.2 767,514.2 769,516.3 771,518.5 773,520.8 775,523.2 777,525.7 779,528.2 781,531.1 783,534.1 785,537.2 787,540.2 789,543.3 791,546.4 793,549.5 795,552.7 797,556 799,559.3 801,562.8 803,566.4 805,570 807,573.6 809,577.2 811,580.6 813,583.7 815,586.8 817,589.8 819,592.9 821,596.1 823,599.3 825,602.5 827,605.9 829,609.2 831,612.6 833,616 835,619.3 837,622.6 839,625.9 841,629.2 843,632.6 845,636 847,639.6 849,643.3 851,647 853,650.8 855,654.7 857,658.5 859,662.3 861,666.1 863,669.9 865,673.5 867,677.2 869,680.8 871,684.5 873,688.1 875,691.7 877,695.3 879,698.9 881,702.6 883,706.2 885,709.9 887,713.6 889,717.2 891,720.9 893,724.6 895,728.3 897,732 899,735.8 901,739.5 903,743.2 905,747 907,750.7 909,754.5 911,758.2 913,762 915,765.7 917,769.5 919,773.3 921,777.1 923,780.8 925,784.6 927,788.4 929,792.2 931,796.1 933,799.9 935,803.7 937,807.6 939,811.4 941,815.3 943,819.2 945,823.1 947,827.1 949,831 951,835 953,839 955,843 957,847 959,846.8 961,849.4 963,851.8 965,854.2 967,856.5 969,859 971,861.4 973,863.8 975,866.2 977,868.5 979,870.9 981,873.2 983,875.6 985,877.8 987,880.1 989,882.3 991,884.4 993,886.6 995,888.7 997,890.7 999,892.7 1001,894.7 1003,896.7 1005,898.6 1007,900.5 1009,902.4 1011,904.3 1013,906.1 1015,907.9 1017,909.7 1019,911.5 1021,913.2 1023,914.9 1025,916.6 1027,918.3 1029,920 1031,921.6 1033,923.2 1035,924.8 1037,926.4 1039,928 1041,929.5 1043,931 1045,932.5 1047,933.9 1049,935.4 1051,936.8 1053,938.2 1055,939.6 1057,940.9 1059,942.3 1061,943.6 1063,944.9 1065,946.2 1067,947.4 1069,948.6 1071,949.8 1073,950.9 1075,952 1077,953 1079,954.1 1081,955.1 1083,956 1085,956.9 1087,957.8 1089,958.6 1091,959.4 1093,960.1 1095,960.8 1097,961.4 1099,962 1101,962.6 1103,963.2 1105,963.7 1107,964.3 1109,964.9 1111,965.5 1113,966.1 1115,966.7 1117,967.3 1119,968 1121,968.7 1123,969.4 1125,970.2 1127,970.9 1129,971.6 1131,972.3 1133,973.1 1135,973.8 1137,974.4 1139,975.1 1141,975.7 1143,976.3 1145,976.9 1147,977.4 1149,978 1151,978.5 1153,979.1 1155,979.6 1157,980.1 1159,980.6 1161,981 1163,981.5 1165,981.9 1167,982.3 1169,982.7 1171,983 1173,983.4 1175,983.7 1177,984 1179,984.3 1181,984.6 1183,984.9 1185,985.2 1187,985.5 1189,985.7 1191,986 1193,986.3 1195,986.7 1197,987 1199,987.3 1201,987.7 1203,988 1205,988.4 1207,988.7 1209,989.1 1211,989.4 1213,989.7 1215,990 1217,990.3 1219,990.6 1221,990.8 1223,991.1 1225,991.3 1227,991.5 1229,991.7 1231,991.9 1233,992.1 1235,992.3 1237,992.5 1239,992.7 1241,992.9 1243,993 1244,993.1" fill="none" stroke="#ffa500" stroke-width="21" stroke-linejoin="round" stroke-linecap="butt"/>
<use href="#sq" x="299.9" y="651.6"/><use href="#sq" x="318.1" y="431.8"/><use href="#sq" x="335.3" y="333"/><use href="#sq" x="351.6" y="297"/><use href="#sq" x="367" y="277.6"/><use href="#sq" x="381.7" y="261.4"/><use href="#sq" x="395.7" y="274.8"/><use href="#sq" x="409.1" y="293.9"/><use href="#sq" x="421.9" y="313"/><use href="#sq" x="434.1" y="330.4"/><use href="#sq" x="445.9" y="345.4"/><use href="#sq" x="457.3" y="359.7"/><use href="#sq" x="468.2" y="371.4"/><use href="#sq" x="478.8" y="381.8"/><use href="#sq" x="489" y="393.5"/><use href="#sq" x="498.9" y="398.1"/><use href="#sq" x="508.4" y="408.2"/><use href="#sq" x="517.7" y="410.3"/><use href="#sq" x="526.6" y="414.8"/><use href="#sq" x="535.4" y="422.9"/><use href="#sq" x="543.8" y="427.4"/><use href="#sq" x="552.1" y="425.2"/><use href="#sq" x="560.1" y="432.7"/><use href="#sq" x="567.9" y="432.2"/><use href="#sq" x="575.5" y="433.3"/><use href="#sq" x="582.9" y="433.5"/><use href="#sq" x="590.2" y="437"/><use href="#sq" x="597.3" y="442.2"/><use href="#sq" x="604.2" y="439.3"/><use href="#sq" x="610.9" y="439.6"/><use href="#sq" x="617.5" y="440.5"/><use href="#sq" x="624" y="441.1"/><use href="#sq" x="630.3" y="443.1"/><use href="#sq" x="636.5" y="447.1"/><use href="#sq" x="642.6" y="442.8"/><use href="#sq" x="648.6" y="444.3"/><use href="#sq" x="654.4" y="449.7"/><use href="#sq" x="660.1" y="451"/><use href="#sq" x="665.7" y="451.9"/><use href="#sq" x="671.3" y="448.6"/><use href="#sq" x="676.7" y="450.6"/><use href="#sq" x="682" y="455.7"/><use href="#sq" x="687.2" y="454.8"/><use href="#sq" x="692.4" y="458.4"/><use href="#sq" x="697.4" y="458.5"/><use href="#sq" x="702.4" y="457.8"/><use href="#sq" x="707.3" y="462.4"/><use href="#sq" x="712.1" y="467.6"/><use href="#sq" x="716.8" y="470.7"/><use href="#sq" x="721.5" y="472.6"/><use href="#sq" x="726.1" y="475.4"/><use href="#sq" x="730.6" y="479.5"/><use href="#sq" x="735.1" y="482.8"/><use href="#sq" x="739.4" y="487.2"/><use href="#sq" x="743.8" y="495"/><use href="#sq" x="748" y="491.7"/><use href="#sq" x="752.2" y="500.7"/><use href="#sq" x="756.4" y="509"/><use href="#sq" x="760.5" y="511.9"/><use href="#sq" x="764.5" y="507.8"/><use href="#sq" x="768.5" y="521.3"/><use href="#sq" x="772.4" y="524.2"/><use href="#sq" x="776.3" y="520.8"/><use href="#sq" x="780.1" y="526.9"/><use href="#sq" x="783.9" y="532"/><use href="#sq" x="787.6" y="535.9"/><use href="#sq" x="791.3" y="552.6"/><use href="#sq" x="795" y="551.6"/><use href="#sq" x="798.6" y="563.1"/><use href="#sq" x="802.1" y="560.2"/><use href="#sq" x="805.7" y="565.3"/><use href="#sq" x="809.1" y="581.9"/><use href="#sq" x="812.6" y="586.5"/><use href="#sq" x="816" y="594.1"/><use href="#sq" x="819.3" y="595.6"/><use href="#sq" x="822.6" y="599"/><use href="#sq" x="825.9" y="607.3"/><use href="#sq" x="829.2" y="604.6"/><use href="#sq" x="832.4" y="615.4"/><use href="#sq" x="835.6" y="619.5"/><use href="#sq" x="838.7" y="621.2"/><use href="#sq" x="841.8" y="631.8"/><use href="#sq" x="844.9" y="633.8"/><use href="#sq" x="848" y="641.5"/><use href="#sq" x="851" y="645.5"/><use href="#sq" x="854" y="650.5"/><use href="#sq" x="856.9" y="656.7"/><use href="#sq" x="859.9" y="665.2"/><use href="#sq" x="862.8" y="675.2"/><use href="#sq" x="865.7" y="680"/><use href="#sq" x="868.5" y="684.3"/><use href="#sq" x="871.3" y="689.1"/><use href="#sq" x="874.1" y="687.6"/><use href="#sq" x="876.9" y="700.9"/><use href="#sq" x="879.6" y="697.3"/><use href="#sq" x="882.4" y="700.5"/><use href="#sq" x="885.1" y="710"/><use href="#sq" x="887.7" y="717.7"/><use href="#sq" x="890.4" y="717.9"/><use href="#sq" x="893" y="726.4"/><use href="#sq" x="895.6" y="726.9"/><use href="#sq" x="898.2" y="739.9"/><use href="#sq" x="900.7" y="738.4"/><use href="#sq" x="903.3" y="743.5"/><use href="#sq" x="905.8" y="748.8"/><use href="#sq" x="908.3" y="757.6"/><use href="#sq" x="910.8" y="763.6"/><use href="#sq" x="913.2" y="762.7"/><use href="#sq" x="915.7" y="766.3"/><use href="#sq" x="918.1" y="772.9"/><use href="#sq" x="920.5" y="770.9"/><use href="#sq" x="922.8" y="779.6"/><use href="#sq" x="925.2" y="789.2"/><use href="#sq" x="927.5" y="792.8"/><use href="#sq" x="929.9" y="788.6"/><use href="#sq" x="932.2" y="802.5"/><use href="#sq" x="934.4" y="801.3"/><use href="#sq" x="936.7" y="812.8"/><use href="#sq" x="939" y="809.8"/><use href="#sq" x="941.2" y="812.3"/><use href="#sq" x="943.4" y="820.6"/><use href="#sq" x="945.6" y="829"/><use href="#sq" x="947.8" y="827.9"/><use href="#sq" x="950" y="837.4"/><use href="#sq" x="952.1" y="839.8"/><use href="#sq" x="954.3" y="839.9"/><use href="#sq" x="956.4" y="843.4"/><use href="#sq" x="958.5" y="846.2"/><use href="#sq" x="960.6" y="848.6"/><use href="#sq" x="962.7" y="851"/><use href="#sq" x="964.7" y="854.3"/><use href="#sq" x="966.8" y="857.4"/><use href="#sq" x="968.8" y="859"/><use href="#sq" x="970.9" y="860.1"/><use href="#sq" x="972.9" y="862.8"/><use href="#sq" x="974.9" y="865.6"/><use href="#sq" x="976.9" y="868.7"/><use href="#sq" x="978.8" y="869.6"/><use href="#sq" x="980.8" y="871.7"/><use href="#sq" x="982.7" y="874.7"/><use href="#sq" x="984.7" y="876.8"/><use href="#sq" x="986.6" y="878.2"/><use href="#sq" x="988.5" y="881.8"/><use href="#sq" x="990.4" y="885.1"/><use href="#sq" x="992.3" y="885.9"/><use href="#sq" x="994.1" y="888.5"/><use href="#sq" x="996" y="890.7"/><use href="#sq" x="997.9" y="892.6"/><use href="#sq" x="999.7" y="894.7"/><use href="#sq" x="1001.5" y="895.1"/><use href="#sq" x="1003.3" y="897.6"/><use href="#sq" x="1005.1" y="897.6"/><use href="#sq" x="1006.9" y="901.6"/><use href="#sq" x="1008.7" y="901.8"/><use href="#sq" x="1010.5" y="903.7"/><use href="#sq" x="1012.3" y="906.6"/><use href="#sq" x="1014" y="906.4"/><use href="#sq" x="1015.7" y="907.7"/><use href="#sq" x="1017.5" y="911.1"/><use href="#sq" x="1019.2" y="911.9"/><use href="#sq" x="1020.9" y="911.9"/><use href="#sq" x="1022.6" y="913.2"/><use href="#sq" x="1024.3" y="915.6"/><use href="#sq" x="1026" y="916"/><use href="#sq" x="1027.7" y="919.9"/><use href="#sq" x="1029.3" y="919.3"/><use href="#sq" x="1031" y="920.9"/><use href="#sq" x="1032.6" y="922.6"/><use href="#sq" x="1034.3" y="924.3"/><use href="#sq" x="1035.9" y="925.4"/><use href="#sq" x="1037.5" y="927.2"/><use href="#sq" x="1039.1" y="928.6"/><use href="#sq" x="1040.7" y="929.1"/><use href="#sq" x="1042.3" y="929.3"/><use href="#sq" x="1043.9" y="933.1"/><use href="#sq" x="1045.5" y="933.4"/><use href="#sq" x="1047.1" y="932.7"/><use href="#sq" x="1048.6" y="934.9"/><use href="#sq" x="1050.2" y="937"/><use href="#sq" x="1051.7" y="938.8"/><use href="#sq" x="1053.3" y="937.1"/><use href="#sq" x="1054.8" y="938"/><use href="#sq" x="1056.3" y="940.4"/><use href="#sq" x="1057.8" y="941.3"/><use href="#sq" x="1059.3" y="943.7"/><use href="#sq" x="1060.8" y="944.5"/><use href="#sq" x="1062.3" y="944"/><use href="#sq" x="1063.8" y="945.2"/><use href="#sq" x="1065.3" y="946.6"/><use href="#sq" x="1066.8" y="948.4"/><use href="#sq" x="1068.2" y="947.3"/><use href="#sq" x="1069.7" y="948.7"/><use href="#sq" x="1071.1" y="948.6"/><use href="#sq" x="1072.6" y="951.1"/><use href="#sq" x="1074" y="950"/><use href="#sq" x="1075.4" y="953.5"/><use href="#sq" x="1076.9" y="953"/><use href="#sq" x="1078.3" y="953.9"/><use href="#sq" x="1079.7" y="953.2"/><use href="#sq" x="1081.1" y="954.3"/><use href="#sq" x="1082.5" y="955.7"/><use href="#sq" x="1083.9" y="957.5"/><use href="#sq" x="1085.2" y="957.2"/><use href="#sq" x="1086.6" y="957"/><use href="#sq" x="1088" y="959.7"/><use href="#sq" x="1089.4" y="959.2"/><use href="#sq" x="1090.7" y="959.4"/><use href="#sq" x="1092.1" y="958.9"/><use href="#sq" x="1093.4" y="959.6"/><use href="#sq" x="1094.7" y="961.9"/><use href="#sq" x="1096.1" y="960"/><use href="#sq" x="1097.4" y="961.6"/><use href="#sq" x="1098.7" y="962.3"/><use href="#sq" x="1100" y="961.9"/><use href="#sq" x="1101.3" y="963.5"/><use href="#sq" x="1102.7" y="964.3"/><use href="#sq" x="1104" y="964.5"/><use href="#sq" x="1105.2" y="964.5"/><use href="#sq" x="1106.5" y="963.3"/><use href="#sq" x="1107.8" y="963.2"/><use href="#sq" x="1109.1" y="964.7"/><use href="#sq" x="1110.4" y="964.7"/><use href="#sq" x="1111.6" y="964.7"/><use href="#sq" x="1112.9" y="967.1"/><use href="#sq" x="1114.1" y="965.6"/><use href="#sq" x="1115.4" y="967.8"/><use href="#sq" x="1116.6" y="968.5"/><use href="#sq" x="1117.9" y="966.5"/><use href="#sq" x="1119.1" y="969.3"/><use href="#sq" x="1120.3" y="968.2"/><use href="#sq" x="1121.6" y="968"/><use href="#sq" x="1122.8" y="968.4"/><use href="#sq" x="1124" y="968.4"/><use href="#sq" x="1125.2" y="970.2"/><use href="#sq" x="1126.4" y="970.3"/><use href="#sq" x="1127.6" y="972.2"/><use href="#sq" x="1128.8" y="972.5"/><use href="#sq" x="1130" y="970.6"/><use href="#sq" x="1131.2" y="972.1"/><use href="#sq" x="1132.4" y="972.5"/><use href="#sq" x="1133.5" y="972.3"/><use href="#sq" x="1134.7" y="972.9"/><use href="#sq" x="1135.9" y="973.3"/><use href="#sq" x="1137" y="975"/><use href="#sq" x="1138.2" y="974.3"/><use href="#sq" x="1139.4" y="974"/><use href="#sq" x="1140.5" y="974.7"/><use href="#sq" x="1141.6" y="975.7"/><use href="#sq" x="1142.8" y="976.4"/><use href="#sq" x="1143.9" y="975.8"/><use href="#sq" x="1145.1" y="977.5"/><use href="#sq" x="1146.2" y="976.3"/><use href="#sq" x="1147.3" y="978"/><use href="#sq" x="1148.4" y="978.2"/><use href="#sq" x="1149.5" y="977.2"/><use href="#sq" x="1150.7" y="979.2"/><use href="#sq" x="1151.8" y="978.4"/><use href="#sq" x="1152.9" y="979.1"/><use href="#sq" x="1154" y="979.6"/><use href="#sq" x="1155.1" y="980"/><use href="#sq" x="1156.1" y="979.7"/><use href="#sq" x="1157.2" y="978.8"/><use href="#sq" x="1158.3" y="981.3"/><use href="#sq" x="1159.4" y="981.7"/><use href="#sq" x="1160.5" y="980.9"/><use href="#sq" x="1161.5" y="981.4"/><use href="#sq" x="1162.6" y="980.7"/><use href="#sq" x="1163.7" y="982.8"/><use href="#sq" x="1164.7" y="982.4"/><use href="#sq" x="1165.8" y="981.2"/><use href="#sq" x="1166.8" y="983.2"/><use href="#sq" x="1167.9" y="983.9"/><use href="#sq" x="1168.9" y="982.2"/><use href="#sq" x="1170" y="984.4"/><use href="#sq" x="1171" y="983"/><use href="#sq" x="1172.1" y="982.3"/><use href="#sq" x="1173.1" y="984.1"/><use href="#sq" x="1174.1" y="983.1"/><use href="#sq" x="1175.1" y="984.4"/><use href="#sq" x="1176.2" y="984.1"/><use href="#sq" x="1177.2" y="982.9"/><use href="#sq" x="1178.2" y="984.3"/><use href="#sq" x="1179.2" y="985.4"/><use href="#sq" x="1180.2" y="984.4"/><use href="#sq" x="1181.2" y="984.8"/><use href="#sq" x="1182.2" y="985.9"/><use href="#sq" x="1183.2" y="984.8"/><use href="#sq" x="1184.2" y="985"/><use href="#sq" x="1185.2" y="985.5"/><use href="#sq" x="1186.2" y="986.3"/><use href="#sq" x="1187.2" y="984.6"/><use href="#sq" x="1188.1" y="984.4"/><use href="#sq" x="1189.1" y="986.5"/><use href="#sq" x="1190.1" y="986.1"/><use href="#sq" x="1191.1" y="985.5"/><use href="#sq" x="1192" y="987.4"/><use href="#sq" x="1193" y="987.5"/><use href="#sq" x="1194" y="986.6"/><use href="#sq" x="1194.9" y="988.1"/><use href="#sq" x="1195.9" y="987.8"/><use href="#sq" x="1196.8" y="987.7"/><use href="#sq" x="1197.8" y="986.5"/><use href="#sq" x="1198.7" y="985.8"/><use href="#sq" x="1199.7" y="988"/><use href="#sq" x="1200.6" y="988.3"/><use href="#sq" x="1201.5" y="987.3"/><use href="#sq" x="1202.5" y="987.9"/><use href="#sq" x="1203.4" y="988.3"/><use href="#sq" x="1204.3" y="987.5"/><use href="#sq" x="1205.3" y="989"/><use href="#sq" x="1206.2" y="988.8"/><use href="#sq" x="1207.1" y="988.4"/><use href="#sq" x="1208" y="987.7"/><use href="#sq" x="1208.9" y="989.2"/><use href="#sq" x="1209.9" y="988.7"/><use href="#sq" x="1210.8" y="990"/><use href="#sq" x="1211.7" y="988.5"/><use href="#sq" x="1212.6" y="989.3"/><use href="#sq" x="1213.5" y="988.9"/><use href="#sq" x="1214.4" y="989.7"/><use href="#sq" x="1215.3" y="990.3"/><use href="#sq" x="1216.2" y="989"/><use href="#sq" x="1217.1" y="989"/><use href="#sq" x="1217.9" y="990.4"/><use href="#sq" x="1218.8" y="989.7"/><use href="#sq" x="1219.7" y="990.7"/><use href="#sq" x="1220.6" y="989.8"/><use href="#sq" x="1221.5" y="989.7"/><use href="#sq" x="1222.3" y="991.1"/><use href="#sq" x="1223.2" y="992.3"/><use href="#sq" x="1224.1" y="992.3"/><use href="#sq" x="1225" y="991.3"/><use href="#sq" x="1225.8" y="991.1"/><use href="#sq" x="1226.7" y="990.2"/><use href="#sq" x="1227.5" y="990.9"/><use href="#sq" x="1228.4" y="991.1"/><use href="#sq" x="1229.3" y="993.1"/><use href="#sq" x="1230.1" y="990.7"/><use href="#sq" x="1231" y="993.3"/><use href="#sq" x="1231.8" y="991.9"/><use href="#sq" x="1232.6" y="991.9"/><use href="#sq" x="1233.5" y="991.5"/><use href="#sq" x="1234.3" y="993.7"/><use href="#sq" x="1235.2" y="991.4"/><use href="#sq" x="1236" y="992.6"/><use href="#sq" x="1236.8" y="992.5"/><use href="#sq" x="1237.7" y="991.7"/><use href="#sq" x="1238.5" y="991.8"/><use href="#sq" x="1239.3" y="994.2"/><use href="#sq" x="1240.2" y="993.7"/><use href="#sq" x="1241" y="993.6"/><use href="#sq" x="1241.8" y="994.1"/><use href="#sq" x="1242.6" y="991.8"/><use href="#sq" x="1243.4" y="993.7"/><use href="#sq" x="1244.2" y="993.9"/><use href="#sq" x="1245.1" y="992.4"/>
<polyline points="478,293.6 481,292.7 484,291.7 487,290.9 490,290 493,289.2 496,288.4 499,287.7 502,286.9 505,286 508,285 511,283.9 514,282.9 517,282 520,281.1 523,280.3 526,279.4 529,278.5 532,277.5 535,276.5 538,275.4 541,274.3 544,273.2 547,272.1 550,271 553,269.8 556,268.7 559,267.5 562,266.3 565,265.2 568,264 571,262.8 574,261.7 577,260.5 580,259.4 583,258.2 586,257 589,255.8 592,254.5 595,253.3 598,251.9 601,250.4 604,249.1 607,247.8 610,246.5 613,245.2 616,244 619,242.9 622,241.8 625,240.8 628,239.8 631,238.9 634,238 637,237.1 640,236.2 643,235.4 646,234.5 649,233.5 652,232.6 655,231.8 658,231.2 661,231 664,230.8 667,230.7 670,230.7 673,230.6 676,230.6 679,230.6 682,230.7 685,230.8 688,230.9 691,231 694,231.2 697,231.4 700,231.9 703,232.6 706,233.5 709,234.6 712,235.9 715,237.6 718,239.7 721,241.9 724,244.2 727,246.8 730,249.5 733,252.4 736,255.4 739,258.5 742,261.7 745,265.2 748,268.9 751,273 754,277.4 757,282.1 760,286.9 763,291.8 766,297 769,302.3 772,307.8 775,313.5 778,319.5 781,325.8 784,332.4 787,339.2 790,346.2 793,353.6 796,361.2 799,369 802,377 805,385.3 808,393.9 811,402.3 814,410.8 817,419.3 820,427.6 823,435.4 826,442.8 829,450.3 832,458.2 835,467.1 838,476.8 841,486.7 844,496.4 847,505.7 850,514.7 853,523.5 856,532.3 859,541.3 862,550.6 865,560.4 868,570.7 871,581 874,591.1 877,601.1 880,611.2 883,621.2 886,631.1 889,640.7 892,650.3 895,659.7 898,669 901,678.6 904,688.6 907,698.5 910,707.6 913,716.4 916,725.7 919,736 922,746 925,754.8 928,763.3 931,772.7 934,783.3 937,794.1 940,804.4 943,813.3 946,821 949,828.2 952,834.8 955,840.6 957,844" fill="none" stroke="#141414" stroke-width="2.8" stroke-linejoin="round"/>
<polyline points="550.9,434.4 553.9,434.1 556.9,433.8 559.9,433.7 562.9,433.7 565.9,433.8 568.9,433.9 571.9,434 574.9,434.2 577.9,434.4 580.9,434.7 583.9,434.9 586.9,435.2 589.9,435.5 592.9,435.9 595.9,436.2 598.9,436.5 601.9,436.9 604.9,437.2 607.9,437.6 610.9,437.9 613.9,438.3 616.9,438.7 619.9,439.2 622.9,439.7 625.9,440.2 628.9,440.8 631.9,441.3 634.9,441.9 637.9,442.5 640.9,443.1 643.9,443.7 646.9,444.4 649.9,445 652.9,445.6 655.9,446.2 658.9,446.9 661.9,447.6 664.9,448.4 667.9,449.2 670.9,450 673.9,450.9 676.9,451.9 679.9,453 682.9,454.4 685.9,455.9 688.9,457.5 691.9,459.2 694.9,460.7 697.9,462.3 700.9,463.9 703.9,465.5 706.9,467.1 709.9,468.8 712.9,470.6 715.9,472.4 718.9,474.4 721.9,476.5 724.9,478.7 727.9,481.1 730.9,483.5 733.9,486.1 736.9,488.7 739.9,491.4 742.9,494.2 745.9,497.1 748.9,500.2 751.9,503.2 754.9,506.3 757.9,509.3 760.9,512.2 763.9,515.1 766.9,518.1 769.9,521.2 772.9,524.7 775.9,528.3 778.9,532.1 781.9,536 784.9,539.9 787.9,543.8 790.9,547.7 793.9,551.7 796.9,555.9 799.9,560.3 802.9,564.9 805.9,569.6 808.9,574.3 811.9,579 814.9,583.6 817.9,588.2 820.9,592.9 823.9,597.7 826.9,602.7 829.9,607.7 832.9,612.8 835.9,617.8 838.9,622.7 841.9,627.7 844.9,632.9 847.9,638.3 850.9,643.9 853.9,649.6 856.9,655.3 859.9,661.1 862.9,666.7 865.9,672.2 868.9,677.7 871.9,683.1 874.9,688.5 877.9,693.9 880.9,699.4 883.9,704.9 886.9,710.4 889.9,715.9 892.9,721.4 895.9,727 898.9,732.6 901.9,738.2 904.9,743.8 907.9,749.4 910.9,755 913.9,760.7 916.9,766.3 919.9,772 922.9,777.7 925.9,783.3 928.9,789.1 931.9,794.8 934.9,800.5 937.9,806.3 940.9,812.1 943.9,818 946.9,823.9 949.9,829.8 952.9,835.8 955.9,841.8 957,844" fill="none" stroke="#141414" stroke-width="2.8" stroke-linejoin="round"/>
</g>
<rect x="263" y="1000.7" width="8" height="3.6" fill="#666"/><rect x="1270.4" y="1000.7" width="8" height="3.6" fill="#666"/><rect x="263" y="916.2" width="8" height="3.6" fill="#666"/><rect x="1270.4" y="916.2" width="8" height="3.6" fill="#666"/><rect x="263" y="856.2" width="8" height="3.6" fill="#666"/><rect x="1270.4" y="856.2" width="8" height="3.6" fill="#666"/><rect x="263" y="809.7" width="8" height="3.6" fill="#666"/><rect x="1270.4" y="809.7" width="8" height="3.6" fill="#666"/><rect x="263" y="771.7" width="8" height="3.6" fill="#666"/><rect x="1270.4" y="771.7" width="8" height="3.6" fill="#666"/><rect x="263" y="739.6" width="8" height="3.6" fill="#666"/><rect x="1270.4" y="739.6" width="8" height="3.6" fill="#666"/><rect x="263" y="711.7" width="8" height="3.6" fill="#666"/><rect x="1270.4" y="711.7" width="8" height="3.6" fill="#666"/><rect x="263" y="687.2" width="8" height="3.6" fill="#666"/><rect x="1270.4" y="687.2" width="8" height="3.6" fill="#666"/><rect x="263" y="665.2" width="15" height="3.6" fill="#555"/><rect x="1263.4" y="665.2" width="15" height="3.6" fill="#555"/><rect x="263" y="520.7" width="8" height="3.6" fill="#666"/><rect x="1270.4" y="520.7" width="8" height="3.6" fill="#666"/><rect x="263" y="436.2" width="8" height="3.6" fill="#666"/><rect x="1270.4" y="436.2" width="8" height="3.6" fill="#666"/><rect x="263" y="376.2" width="8" height="3.6" fill="#666"/><rect x="1270.4" y="376.2" width="8" height="3.6" fill="#666"/><rect x="263" y="329.7" width="8" height="3.6" fill="#666"/><rect x="1270.4" y="329.7" width="8" height="3.6" fill="#666"/><rect x="263" y="291.7" width="8" height="3.6" fill="#666"/><rect x="1270.4" y="291.7" width="8" height="3.6" fill="#666"/><rect x="263" y="259.6" width="8" height="3.6" fill="#666"/><rect x="1270.4" y="259.6" width="8" height="3.6" fill="#666"/><rect x="263" y="231.7" width="8" height="3.6" fill="#666"/><rect x="1270.4" y="231.7" width="8" height="3.6" fill="#666"/><rect x="263" y="207.2" width="8" height="3.6" fill="#666"/><rect x="1270.4" y="207.2" width="8" height="3.6" fill="#666"/><rect x="263" y="185.2" width="15" height="3.6" fill="#555"/><rect x="1263.4" y="185.2" width="15" height="3.6" fill="#555"/><rect x="263" y="40.7" width="8" height="3.6" fill="#666"/><rect x="1270.4" y="40.7" width="8" height="3.6" fill="#666"/><rect x="466.3" y="1052" width="3.6" height="8" fill="#777"/><rect x="466.3" y="44.7" width="3.6" height="8" fill="#777"/><rect x="588.2" y="1052" width="3.6" height="8" fill="#777"/><rect x="588.2" y="44.7" width="3.6" height="8" fill="#777"/><rect x="674.6" y="1052" width="3.6" height="8" fill="#777"/><rect x="674.6" y="44.7" width="3.6" height="8" fill="#777"/><rect x="741.7" y="1052" width="3.6" height="8" fill="#777"/><rect x="741.7" y="44.7" width="3.6" height="8" fill="#777"/><rect x="796.5" y="1052" width="3.6" height="8" fill="#777"/><rect x="796.5" y="44.7" width="3.6" height="8" fill="#777"/><rect x="842.8" y="1052" width="3.6" height="8" fill="#777"/><rect x="842.8" y="44.7" width="3.6" height="8" fill="#777"/><rect x="882.9" y="1052" width="3.6" height="8" fill="#777"/><rect x="882.9" y="44.7" width="3.6" height="8" fill="#777"/><rect x="918.3" y="1052" width="3.6" height="8" fill="#777"/><rect x="918.3" y="44.7" width="3.6" height="8" fill="#777"/><rect x="950" y="1045" width="3.6" height="15" fill="#555"/><rect x="950" y="44.7" width="3.6" height="15" fill="#555"/><rect x="1158.3" y="1052" width="3.6" height="8" fill="#777"/><rect x="1158.3" y="44.7" width="3.6" height="8" fill="#777"/><rect x="1280.2" y="1052" width="3.6" height="8" fill="#777"/><rect x="1280.2" y="44.7" width="3.6" height="8" fill="#777"/>
<rect x="259.5" y="37.5" width="1026.2" height="7.2" fill="#333"/>
<rect x="259.5" y="40" width="3.6" height="1027" fill="#000"/>
<rect x="259.5" y="1059.9" width="1026.2" height="3.4" fill="#000"/>
<rect x="259.5" y="1063.3" width="1026.2" height="3.7" fill="#888"/>
<rect x="1278.4" y="44.7" width="3.5" height="1018.6" fill="#888"/>
<rect x="1281.9" y="40" width="3.8" height="1027" fill="#000"/>
<g font-family="'Liberation Sans', sans-serif" fill="#000"><g transform="translate(118.3 210.4)"><path vector-effect="non-scaling-stroke" transform="translate(0 0) scale(0.029002 -0.030273)" d="M575,0L756,0L756,1409L590,1409L180,1180L180,1010L575,1237Z"/><text x="35.23" y="0" font-size="62" transform="scale(0.958 1)">0</text><text x="85.39" y="-28" font-size="49.6" transform="scale(0.958 1)">3</text></g><g transform="translate(118.3 690.4)"><path vector-effect="non-scaling-stroke" transform="translate(0 0) scale(0.029002 -0.030273)" d="M575,0L756,0L756,1409L590,1409L180,1180L180,1010L575,1237Z"/><text x="35.23" y="0" font-size="62" transform="scale(0.958 1)">0</text><text x="85.39" y="-28" font-size="49.6" transform="scale(0.958 1)">2</text></g><g transform="translate(230.1 1140.4)"><text x="0" y="0" font-size="62" transform="scale(0.958 1)">0</text><text x="29.75" y="0" font-size="62" transform="scale(0.958 1)">.</text><path vector-effect="non-scaling-stroke" transform="translate(47.1 0) scale(0.029002 -0.030273)" d="M575,0L756,0L756,1409L590,1409L180,1180L180,1010L575,1237Z"/></g><g transform="translate(945.2 1140.4)"><path vector-effect="non-scaling-stroke" transform="translate(0 0) scale(0.029002 -0.030273)" d="M575,0L756,0L756,1409L590,1409L180,1180L180,1010L575,1237Z"/></g><g transform="translate(663.6 1236)"><text x="0" y="0" font-size="62" font-style="italic" transform="scale(0.958 1)">q</text><text x="52.87" y="0" font-size="62" transform="scale(0.958 1)">/</text><text x="82.36" y="0" font-size="62" transform="scale(0.958 1)">n</text><text x="116.84" y="0" font-size="62" transform="scale(0.958 1)">m</text><text x="169.21" y="-24.5" font-size="49.6" transform="scale(0.958 1)">−</text><path vector-effect="non-scaling-stroke" transform="translate(189.85 -29.7) scale(0.023202 -0.024219)" d="M575,0L756,0L756,1409L590,1409L180,1180L180,1010L575,1237Z"/></g><g transform="translate(49.4 671.9) rotate(-90)"><text x="7.31" y="0" font-size="62" font-style="italic" transform="scale(0.958 1)">I</text><text x="23.49" y="0" font-size="62" transform="scale(0.958 1)">(</text><text x="41.02" y="0" font-size="62" font-style="italic" transform="scale(0.958 1)">q</text><text x="75.47" y="0" font-size="62" transform="scale(0.958 1)">)</text><text x="110.23" y="0" font-size="62" transform="scale(0.958 1)">/</text><text x="144.68" y="0" font-size="62" transform="scale(0.958 1)">a</text><text x="179.16" y="0" font-size="62" transform="scale(0.958 1)">.</text><text x="196.39" y="0" font-size="62" transform="scale(0.958 1)">u</text><text x="230.87" y="0" font-size="62" transform="scale(0.958 1)">.</text></g><g transform="translate(295.03 860.1)"><text x="0" y="0" font-size="62" transform="scale(0.958 1)">R</text><text x="44.77" y="6.5" font-size="62" transform="scale(0.958 1)">−</text><path vector-effect="non-scaling-stroke" transform="translate(77.58 0) scale(0.029002 -0.030273)" d="M575,0L756,0L756,1409L590,1409L180,1180L180,1010L575,1237Z"/><path vector-effect="non-scaling-stroke" transform="translate(110.61 0) scale(0.029002 -0.030273)" d="M575,0L756,0L756,1409L590,1409L180,1180L180,1010L575,1237Z"/><text x="149.94" y="0" font-size="62" transform="scale(0.958 1)">0</text><text x="184.43" y="0" font-size="62" transform="scale(0.958 1)">0</text><text x="236.13" y="0" font-size="62" transform="scale(0.958 1)">R</text><text x="280.91" y="0" font-size="62" transform="scale(0.958 1)">H</text><text x="325.68" y="0" font-size="62" transform="scale(0.958 1)">3</text><text x="360.16" y="0" font-size="62" transform="scale(0.958 1)">0</text><text x="394.64" y="0" font-size="62" transform="scale(0.958 1)">%</text></g><g transform="translate(295.03 919)"><text x="0" y="0" font-size="62" transform="scale(0.958 1)">R</text><text x="44.77" y="6.5" font-size="62" transform="scale(0.958 1)">−</text><path vector-effect="non-scaling-stroke" transform="translate(77.58 0) scale(0.029002 -0.030273)" d="M575,0L756,0L756,1409L590,1409L180,1180L180,1010L575,1237Z"/><path vector-effect="non-scaling-stroke" transform="translate(110.61 0) scale(0.029002 -0.030273)" d="M575,0L756,0L756,1409L590,1409L180,1180L180,1010L575,1237Z"/><text x="149.94" y="0" font-size="62" transform="scale(0.958 1)">0</text><text x="184.43" y="0" font-size="62" transform="scale(0.958 1)">0</text><text x="236.13" y="0" font-size="62" transform="scale(0.958 1)">R</text><text x="280.91" y="0" font-size="62" transform="scale(0.958 1)">H</text><text x="325.68" y="0" font-size="62" transform="scale(0.958 1)">6</text><text x="360.16" y="0" font-size="62" transform="scale(0.958 1)">0</text><text x="394.64" y="0" font-size="62" transform="scale(0.958 1)">%</text></g><g transform="translate(295.03 978)"><text x="0" y="0" font-size="62" transform="scale(0.958 1)">R</text><text x="44.77" y="6.5" font-size="62" transform="scale(0.958 1)">−</text><path vector-effect="non-scaling-stroke" transform="translate(77.58 0) scale(0.029002 -0.030273)" d="M575,0L756,0L756,1409L590,1409L180,1180L180,1010L575,1237Z"/><path vector-effect="non-scaling-stroke" transform="translate(110.61 0) scale(0.029002 -0.030273)" d="M575,0L756,0L756,1409L590,1409L180,1180L180,1010L575,1237Z"/><text x="149.94" y="0" font-size="62" transform="scale(0.958 1)">0</text><text x="184.43" y="0" font-size="62" transform="scale(0.958 1)">0</text><text x="236.13" y="0" font-size="62" transform="scale(0.958 1)">R</text><text x="280.91" y="0" font-size="62" transform="scale(0.958 1)">H</text><text x="325.68" y="0" font-size="62" transform="scale(0.958 1)">9</text><text x="360.16" y="0" font-size="62" transform="scale(0.958 1)">0</text><text x="394.64" y="0" font-size="62" transform="scale(0.958 1)">%</text></g><g transform="translate(295.03 1029.4)"><text x="0" y="0" font-size="62" transform="scale(0.958 1)">P</text><text x="41.35" y="0" font-size="62" transform="scale(0.958 1)">9</text><text x="75.83" y="0" font-size="62" transform="scale(0.958 1)">8</text><text x="110.32" y="6.5" font-size="62" transform="scale(0.958 1)">−</text><text x="146.52" y="0" font-size="62" transform="scale(0.958 1)">S</text><text x="187.88" y="0" font-size="62" transform="scale(0.958 1)">O</text><text x="236.1" y="17.5" font-size="49.6" transform="scale(0.958 1)">2</text><text x="263.69" y="0" font-size="62" transform="scale(0.958 1)">F</text></g></g>
<use href="#tri" x="835.5" y="840"/><use href="#dot" x="835.5" y="899"/><use href="#circ" x="835.5" y="960"/><use href="#sq" x="835.5" y="1018.5"/>
</svg></body></html>
